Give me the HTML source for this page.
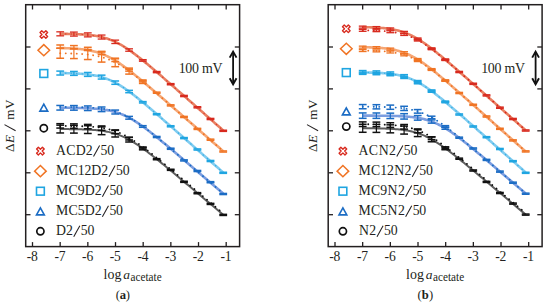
<!DOCTYPE html><html><head><meta charset="utf-8"><style>html,body{margin:0;padding:0;background:#fff;width:550px;height:305px;overflow:hidden}svg{display:block}</style></head><body>
<svg width="550" height="305" viewBox="0 0 550 305">
<rect width="550" height="305" fill="#fff"/>
<g transform="translate(0,0)">
<polyline points="60.20,129.06 61.37,129.07 62.55,129.07 63.72,129.08 64.89,129.09 66.06,129.10 67.24,129.11 68.41,129.12 69.58,129.13 70.75,129.15 71.93,129.16 73.10,129.18 74.27,129.20 75.44,129.22 76.62,129.24 77.79,129.26 78.96,129.29 80.14,129.32 81.31,129.35 82.48,129.38 83.65,129.42 84.83,129.46 86.00,129.51 87.17,129.56 88.34,129.62 89.52,129.68 90.69,129.75 91.86,129.82 93.03,129.90 94.21,129.99 95.38,130.08 96.55,130.19 97.73,130.30 98.90,130.43 100.07,130.56 101.24,130.71 102.42,130.87 103.59,131.04 104.76,131.23 105.93,131.43 107.11,131.65 108.28,131.89 109.45,132.14 110.62,132.42 111.80,132.71 112.97,133.02 114.14,133.36 115.32,133.71 116.49,134.09 117.66,134.50 118.83,134.92 120.01,135.37 121.18,135.85 122.35,136.34 123.52,136.87 124.70,137.41 125.87,137.98 127.04,138.58 128.21,139.19 129.39,139.83 130.56,140.49 131.73,141.17 132.91,141.87 134.08,142.59 135.25,143.33 136.42,144.09 137.60,144.87 138.77,145.66 139.94,146.46 141.11,147.28 142.29,148.12 143.46,148.96 144.63,149.82 145.80,150.69 146.98,151.57 148.15,152.45 149.32,153.35 150.49,154.25 151.67,155.17 152.84,156.08 154.01,157.01 155.19,157.94 156.36,158.87 157.53,159.81 158.70,160.76 159.88,161.71 161.05,162.66 162.22,163.62 163.39,164.57 164.57,165.54 165.74,166.50 166.91,167.47 168.08,168.44 169.26,169.41 170.43,170.38 171.60,171.35 172.78,172.33 173.95,173.30 175.12,174.28 176.29,175.26 177.47,176.24 178.64,177.22 179.81,178.21 180.98,179.19 182.16,180.17 183.33,181.15 184.50,182.14 185.67,183.12 186.85,184.11 188.02,185.10 189.19,186.08 190.37,187.07 191.54,188.06 192.71,189.04 193.88,190.03 195.06,191.02 196.23,192.01 197.40,192.99 198.57,193.98 199.75,194.97 200.92,195.96 202.09,196.95 203.26,197.94 204.44,198.93 205.61,199.91 206.78,200.90 207.96,201.89 209.13,202.88 210.30,203.87 211.47,204.86 212.65,205.85 213.82,206.84 214.99,207.83 216.16,208.82 217.34,209.81 218.51,210.80 219.68,211.79 220.85,212.78 222.03,213.77 223.20,214.76" fill="none" stroke="#5e5e5e" stroke-width="2.0"/>
<polyline points="60.20,125.87 61.37,125.88 62.55,125.89 63.72,125.90 64.89,125.91 66.06,125.92 67.24,125.93 68.41,125.94 69.58,125.96 70.75,125.97 71.93,125.99 73.10,126.01 74.27,126.03 75.44,126.06 76.62,126.08 77.79,126.11 78.96,126.14 80.14,126.18 81.31,126.21 82.48,126.26 83.65,126.30 84.83,126.35 86.00,126.41 87.17,126.47 88.34,126.53 89.52,126.60 90.69,126.68 91.86,126.77 93.03,126.86 94.21,126.97 95.38,127.08 96.55,127.20 97.73,127.34 98.90,127.48 100.07,127.64 101.24,127.81 102.42,127.99 103.59,128.19 104.76,128.41 105.93,128.64 107.11,128.90 108.28,129.17 109.45,129.45 110.62,129.76 111.80,130.10 112.97,130.45 114.14,130.82 115.32,131.22 116.49,131.64 117.66,132.09 118.83,132.56 120.01,133.05 121.18,133.57 122.35,134.11 123.52,134.68 124.70,135.27 125.87,135.88 127.04,136.51 128.21,137.17 129.39,137.85 130.56,138.54 131.73,139.26 132.91,140.00 134.08,140.75 135.25,141.53 136.42,142.31 137.60,143.12 138.77,143.93 139.94,144.76 141.11,145.61 142.29,146.46 143.46,147.33 144.63,148.21 145.80,149.09 146.98,149.99 148.15,150.89 149.32,151.80 150.49,152.72 151.67,153.64 152.84,154.57 154.01,155.50 155.19,156.44 156.36,157.39 157.53,158.33 158.70,159.29 159.88,160.24 161.05,161.20 162.22,162.16 163.39,163.12 164.57,164.09 165.74,165.06 166.91,166.03 168.08,167.00 169.26,167.98 170.43,168.95 171.60,169.93 172.78,170.90 173.95,171.88 175.12,172.86 176.29,173.84 177.47,174.83 178.64,175.81 179.81,176.79 180.98,177.78 182.16,178.76 183.33,179.75 184.50,180.73 185.67,181.72 186.85,182.70 188.02,183.69 189.19,184.68 190.37,185.66 191.54,186.65 192.71,187.64 193.88,188.63 195.06,189.61 196.23,190.60 197.40,191.59 198.57,192.58 199.75,193.57 200.92,194.56 202.09,195.55 203.26,196.54 204.44,197.52 205.61,198.51 206.78,199.50 207.96,200.49 209.13,201.48 210.30,202.47 211.47,203.46 212.65,204.45 213.82,205.44 214.99,206.43 216.16,207.42 217.34,208.41 218.51,209.40 219.68,210.39 220.85,211.38 222.03,212.37 223.20,213.36" fill="none" stroke="#111111" stroke-width="1.8" stroke-dasharray="0.1 5.4" stroke-linecap="round"/>
<rect x="56.30" y="124.41" width="7.8" height="1.5" fill="#111111"/>
<rect x="56.30" y="132.21" width="7.8" height="1.5" fill="#111111"/>
<rect x="59.60" y="125.16" width="1.2" height="7.80" fill="#111111"/>
<rect x="56.30" y="122.93" width="7.8" height="1.5" fill="#111111"/>
<rect x="56.30" y="127.33" width="7.8" height="1.5" fill="#111111"/>
<rect x="59.60" y="123.68" width="1.2" height="4.40" fill="#111111"/>
<rect x="70.00" y="124.54" width="7.8" height="1.5" fill="#111111"/>
<rect x="70.00" y="132.34" width="7.8" height="1.5" fill="#111111"/>
<rect x="73.30" y="125.29" width="1.2" height="7.80" fill="#111111"/>
<rect x="70.00" y="123.11" width="7.8" height="1.5" fill="#111111"/>
<rect x="70.00" y="127.51" width="7.8" height="1.5" fill="#111111"/>
<rect x="73.30" y="123.86" width="1.2" height="4.40" fill="#111111"/>
<rect x="83.90" y="124.94" width="7.8" height="1.5" fill="#111111"/>
<rect x="83.90" y="132.74" width="7.8" height="1.5" fill="#111111"/>
<rect x="87.20" y="125.69" width="1.2" height="7.80" fill="#111111"/>
<rect x="83.90" y="123.65" width="7.8" height="1.5" fill="#111111"/>
<rect x="83.90" y="128.05" width="7.8" height="1.5" fill="#111111"/>
<rect x="87.20" y="124.40" width="1.2" height="4.40" fill="#111111"/>
<rect x="97.70" y="126.11" width="7.8" height="1.5" fill="#111111"/>
<rect x="97.70" y="133.91" width="7.8" height="1.5" fill="#111111"/>
<rect x="101.00" y="126.86" width="1.2" height="7.80" fill="#111111"/>
<rect x="97.70" y="125.19" width="7.8" height="1.5" fill="#111111"/>
<rect x="97.70" y="129.59" width="7.8" height="1.5" fill="#111111"/>
<rect x="101.00" y="125.94" width="1.2" height="4.40" fill="#111111"/>
<rect x="111.30" y="129.61" width="7.8" height="1.5" fill="#111111"/>
<rect x="111.30" y="136.24" width="7.8" height="1.5" fill="#111111"/>
<rect x="114.60" y="130.36" width="1.2" height="6.63" fill="#111111"/>
<rect x="111.30" y="129.16" width="7.8" height="1.5" fill="#111111"/>
<rect x="111.30" y="132.90" width="7.8" height="1.5" fill="#111111"/>
<rect x="114.60" y="129.91" width="1.2" height="3.74" fill="#111111"/>
<rect x="125.20" y="136.58" width="7.8" height="1.5" fill="#111111"/>
<rect x="125.20" y="141.26" width="7.8" height="1.5" fill="#111111"/>
<rect x="128.50" y="137.33" width="1.2" height="4.68" fill="#111111"/>
<rect x="125.20" y="136.59" width="7.8" height="1.5" fill="#111111"/>
<rect x="125.20" y="139.23" width="7.8" height="1.5" fill="#111111"/>
<rect x="128.50" y="137.34" width="1.2" height="2.64" fill="#111111"/>
<rect x="138.90" y="146.37" width="7.8" height="1.5" fill="#111111"/>
<rect x="138.90" y="149.10" width="7.8" height="1.5" fill="#111111"/>
<rect x="142.20" y="147.12" width="1.2" height="2.73" fill="#111111"/>
<rect x="138.90" y="146.56" width="7.8" height="1.5" fill="#111111"/>
<rect x="138.90" y="148.10" width="7.8" height="1.5" fill="#111111"/>
<rect x="152.80" y="157.90" width="7.8" height="1.5" fill="#111111"/>
<rect x="152.80" y="159.00" width="7.8" height="1.5" fill="#111111"/>
<rect x="166.80" y="168.50" width="7.8" height="1.5" fill="#111111"/>
<rect x="166.80" y="169.60" width="7.8" height="1.5" fill="#111111"/>
<rect x="180.10" y="180.50" width="7.8" height="1.5" fill="#111111"/>
<rect x="180.10" y="181.60" width="7.8" height="1.5" fill="#111111"/>
<rect x="193.50" y="191.90" width="7.8" height="1.5" fill="#111111"/>
<rect x="193.50" y="193.00" width="7.8" height="1.5" fill="#111111"/>
<rect x="206.60" y="202.60" width="7.8" height="1.5" fill="#111111"/>
<rect x="206.60" y="203.70" width="7.8" height="1.5" fill="#111111"/>
<rect x="219.30" y="213.60" width="7.8" height="1.5" fill="#111111"/>
<rect x="219.30" y="214.70" width="7.8" height="1.5" fill="#111111"/>
<polyline points="60.20,107.76 61.37,107.76 62.55,107.77 63.72,107.77 64.89,107.78 66.06,107.79 67.24,107.80 68.41,107.81 69.58,107.82 70.75,107.83 71.93,107.85 73.10,107.86 74.27,107.88 75.44,107.90 76.62,107.91 77.79,107.94 78.96,107.96 80.14,107.99 81.31,108.02 82.48,108.05 83.65,108.08 84.83,108.12 86.00,108.16 87.17,108.21 88.34,108.26 89.52,108.32 90.69,108.38 91.86,108.44 93.03,108.52 94.21,108.60 95.38,108.69 96.55,108.78 97.73,108.89 98.90,109.00 100.07,109.13 101.24,109.26 102.42,109.41 103.59,109.57 104.76,109.74 105.93,109.93 107.11,110.13 108.28,110.35 109.45,110.59 110.62,110.85 111.80,111.12 112.97,111.41 114.14,111.73 115.32,112.06 116.49,112.42 117.66,112.80 118.83,113.21 120.01,113.64 121.18,114.09 122.35,114.57 123.52,115.07 124.70,115.59 125.87,116.14 127.04,116.72 128.21,117.31 129.39,117.93 130.56,118.58 131.73,119.24 132.91,119.93 134.08,120.64 135.25,121.37 136.42,122.12 137.60,122.88 138.77,123.67 139.94,124.47 141.11,125.28 142.29,126.11 143.46,126.95 144.63,127.81 145.80,128.68 146.98,129.55 148.15,130.44 149.32,131.34 150.49,132.25 151.67,133.17 152.84,134.09 154.01,135.02 155.19,135.96 156.36,136.90 157.53,137.85 158.70,138.80 159.88,139.76 161.05,140.72 162.22,141.68 163.39,142.65 164.57,143.62 165.74,144.60 166.91,145.58 168.08,146.56 169.26,147.54 170.43,148.52 171.60,149.51 172.78,150.50 173.95,151.48 175.12,152.48 176.29,153.47 177.47,154.46 178.64,155.45 179.81,156.45 180.98,157.44 182.16,158.44 183.33,159.44 184.50,160.44 185.67,161.43 186.85,162.43 188.02,163.43 189.19,164.43 190.37,165.43 191.54,166.43 192.71,167.43 193.88,168.43 195.06,169.44 196.23,170.44 197.40,171.44 198.57,172.44 199.75,173.44 200.92,174.45 202.09,175.45 203.26,176.45 204.44,177.45 205.61,178.46 206.78,179.46 207.96,180.46 209.13,181.47 210.30,182.47 211.47,183.47 212.65,184.48 213.82,185.48 214.99,186.48 216.16,187.49 217.34,188.49 218.51,189.50 219.68,190.50 220.85,191.50 222.03,192.51 223.20,193.51" fill="none" stroke="#7b9de0" stroke-width="2.6"/>
<polyline points="60.20,106.96 61.37,106.97 62.55,106.97 63.72,106.98 64.89,106.99 66.06,107.00 67.24,107.01 68.41,107.02 69.58,107.03 70.75,107.04 71.93,107.06 73.10,107.07 74.27,107.09 75.44,107.11 76.62,107.13 77.79,107.16 78.96,107.18 80.14,107.21 81.31,107.24 82.48,107.28 83.65,107.31 84.83,107.35 86.00,107.40 87.17,107.45 88.34,107.50 89.52,107.56 90.69,107.63 91.86,107.70 93.03,107.78 94.21,107.87 95.38,107.96 96.55,108.06 97.73,108.18 98.90,108.30 100.07,108.43 101.24,108.58 102.42,108.73 103.59,108.91 104.76,109.09 105.93,109.29 107.11,109.51 108.28,109.74 109.45,109.99 110.62,110.26 111.80,110.55 112.97,110.86 114.14,111.19 115.32,111.55 116.49,111.92 117.66,112.32 118.83,112.75 120.01,113.19 121.18,113.67 122.35,114.16 123.52,114.68 124.70,115.23 125.87,115.80 127.04,116.39 128.21,117.01 129.39,117.65 130.56,118.31 131.73,118.99 132.91,119.70 134.08,120.42 135.25,121.16 136.42,121.93 137.60,122.71 138.77,123.50 139.94,124.31 141.11,125.14 142.29,125.98 143.46,126.83 144.63,127.70 145.80,128.57 146.98,129.46 148.15,130.36 149.32,131.26 150.49,132.18 151.67,133.10 152.84,134.03 154.01,134.96 155.19,135.91 156.36,136.85 157.53,137.80 158.70,138.76 159.88,139.72 161.05,140.69 162.22,141.65 163.39,142.63 164.57,143.60 165.74,144.58 166.91,145.56 168.08,146.54 169.26,147.52 170.43,148.51 171.60,149.49 172.78,150.48 173.95,151.47 175.12,152.47 176.29,153.46 177.47,154.45 178.64,155.45 179.81,156.44 180.98,157.44 182.16,158.44 183.33,159.43 184.50,160.43 185.67,161.43 186.85,162.43 188.02,163.43 189.19,164.43 190.37,165.43 191.54,166.43 192.71,167.43 193.88,168.43 195.06,169.43 196.23,170.44 197.40,171.44 198.57,172.44 199.75,173.44 200.92,174.45 202.09,175.45 203.26,176.45 204.44,177.45 205.61,178.46 206.78,179.46 207.96,180.46 209.13,181.47 210.30,182.47 211.47,183.47 212.65,184.48 213.82,185.48 214.99,186.48 216.16,187.49 217.34,188.49 218.51,189.50 219.68,190.50 220.85,191.50 222.03,192.51 223.20,193.51" fill="none" stroke="#1b6cc4" stroke-width="1.8" stroke-dasharray="0.1 5.4" stroke-linecap="round"/>
<rect x="56.30" y="104.71" width="7.8" height="1.5" fill="#1b6cc4"/>
<rect x="56.30" y="109.31" width="7.8" height="1.5" fill="#1b6cc4"/>
<rect x="59.60" y="105.46" width="1.2" height="4.60" fill="#1b6cc4"/>
<rect x="70.00" y="104.82" width="7.8" height="1.5" fill="#1b6cc4"/>
<rect x="70.00" y="109.42" width="7.8" height="1.5" fill="#1b6cc4"/>
<rect x="73.30" y="105.57" width="1.2" height="4.60" fill="#1b6cc4"/>
<rect x="83.90" y="105.19" width="7.8" height="1.5" fill="#1b6cc4"/>
<rect x="83.90" y="109.79" width="7.8" height="1.5" fill="#1b6cc4"/>
<rect x="87.20" y="105.94" width="1.2" height="4.60" fill="#1b6cc4"/>
<rect x="97.70" y="106.25" width="7.8" height="1.5" fill="#1b6cc4"/>
<rect x="97.70" y="110.85" width="7.8" height="1.5" fill="#1b6cc4"/>
<rect x="101.00" y="107.00" width="1.2" height="4.60" fill="#1b6cc4"/>
<rect x="111.30" y="109.33" width="7.8" height="1.5" fill="#1b6cc4"/>
<rect x="111.30" y="113.24" width="7.8" height="1.5" fill="#1b6cc4"/>
<rect x="114.60" y="110.08" width="1.2" height="3.91" fill="#1b6cc4"/>
<rect x="125.20" y="115.65" width="7.8" height="1.5" fill="#1b6cc4"/>
<rect x="125.20" y="118.41" width="7.8" height="1.5" fill="#1b6cc4"/>
<rect x="128.50" y="116.40" width="1.2" height="2.76" fill="#1b6cc4"/>
<rect x="138.90" y="124.92" width="7.8" height="1.5" fill="#1b6cc4"/>
<rect x="138.90" y="126.53" width="7.8" height="1.5" fill="#1b6cc4"/>
<rect x="152.80" y="135.70" width="7.8" height="1.5" fill="#1b6cc4"/>
<rect x="152.80" y="136.80" width="7.8" height="1.5" fill="#1b6cc4"/>
<rect x="166.80" y="147.45" width="7.8" height="1.5" fill="#1b6cc4"/>
<rect x="166.80" y="148.55" width="7.8" height="1.5" fill="#1b6cc4"/>
<rect x="180.10" y="159.10" width="7.8" height="1.5" fill="#1b6cc4"/>
<rect x="180.10" y="160.20" width="7.8" height="1.5" fill="#1b6cc4"/>
<rect x="193.50" y="169.70" width="7.8" height="1.5" fill="#1b6cc4"/>
<rect x="193.50" y="170.80" width="7.8" height="1.5" fill="#1b6cc4"/>
<rect x="206.60" y="180.90" width="7.8" height="1.5" fill="#1b6cc4"/>
<rect x="206.60" y="182.00" width="7.8" height="1.5" fill="#1b6cc4"/>
<rect x="219.30" y="192.70" width="7.8" height="1.5" fill="#1b6cc4"/>
<rect x="219.30" y="193.80" width="7.8" height="1.5" fill="#1b6cc4"/>
<polyline points="60.20,73.06 61.37,73.08 62.55,73.10 63.72,73.12 64.89,73.14 66.06,73.16 67.24,73.19 68.41,73.22 69.58,73.25 70.75,73.29 71.93,73.33 73.10,73.37 74.27,73.42 75.44,73.47 76.62,73.53 77.79,73.59 78.96,73.66 80.14,73.73 81.31,73.81 82.48,73.90 83.65,74.00 84.83,74.11 86.00,74.22 87.17,74.35 88.34,74.49 89.52,74.64 90.69,74.80 91.86,74.98 93.03,75.17 94.21,75.37 95.38,75.60 96.55,75.84 97.73,76.10 98.90,76.38 100.07,76.68 101.24,77.00 102.42,77.34 103.59,77.71 104.76,78.10 105.93,78.51 107.11,78.95 108.28,79.41 109.45,79.90 110.62,80.41 111.80,80.95 112.97,81.51 114.14,82.10 115.32,82.71 116.49,83.34 117.66,84.00 118.83,84.69 120.01,85.39 121.18,86.12 122.35,86.87 123.52,87.63 124.70,88.42 125.87,89.22 127.04,90.04 128.21,90.88 129.39,91.73 130.56,92.60 131.73,93.48 132.91,94.37 134.08,95.27 135.25,96.19 136.42,97.11 137.60,98.04 138.77,98.99 139.94,99.94 141.11,100.89 142.29,101.86 143.46,102.83 144.63,103.80 145.80,104.78 146.98,105.77 148.15,106.76 149.32,107.75 150.49,108.75 151.67,109.75 152.84,110.75 154.01,111.76 155.19,112.77 156.36,113.78 157.53,114.79 158.70,115.81 159.88,116.82 161.05,117.84 162.22,118.86 163.39,119.88 164.57,120.90 165.74,121.93 166.91,122.95 168.08,123.98 169.26,125.00 170.43,126.03 171.60,127.06 172.78,128.09 173.95,129.11 175.12,130.14 176.29,131.17 177.47,132.20 178.64,133.23 179.81,134.26 180.98,135.29 182.16,136.33 183.33,137.36 184.50,138.39 185.67,139.42 186.85,140.45 188.02,141.49 189.19,142.52 190.37,143.55 191.54,144.58 192.71,145.62 193.88,146.65 195.06,147.68 196.23,148.72 197.40,149.75 198.57,150.78 199.75,151.82 200.92,152.85 202.09,153.88 203.26,154.92 204.44,155.95 205.61,156.98 206.78,158.02 207.96,159.05 209.13,160.08 210.30,161.12 211.47,162.15 212.65,163.19 213.82,164.22 214.99,165.25 216.16,166.29 217.34,167.32 218.51,168.35 219.68,169.39 220.85,170.42 222.03,171.46 223.20,172.49" fill="none" stroke="#80ccf0" stroke-width="2.6"/>
<polyline points="60.20,73.06 61.37,73.08 62.55,73.10 63.72,73.12 64.89,73.14 66.06,73.16 67.24,73.19 68.41,73.22 69.58,73.25 70.75,73.29 71.93,73.33 73.10,73.37 74.27,73.42 75.44,73.47 76.62,73.53 77.79,73.59 78.96,73.66 80.14,73.73 81.31,73.81 82.48,73.90 83.65,74.00 84.83,74.11 86.00,74.22 87.17,74.35 88.34,74.49 89.52,74.64 90.69,74.80 91.86,74.98 93.03,75.17 94.21,75.37 95.38,75.60 96.55,75.84 97.73,76.10 98.90,76.38 100.07,76.68 101.24,77.00 102.42,77.34 103.59,77.71 104.76,78.10 105.93,78.51 107.11,78.95 108.28,79.41 109.45,79.90 110.62,80.41 111.80,80.95 112.97,81.51 114.14,82.10 115.32,82.71 116.49,83.34 117.66,84.00 118.83,84.69 120.01,85.39 121.18,86.12 122.35,86.87 123.52,87.63 124.70,88.42 125.87,89.22 127.04,90.04 128.21,90.88 129.39,91.73 130.56,92.60 131.73,93.48 132.91,94.37 134.08,95.27 135.25,96.19 136.42,97.11 137.60,98.04 138.77,98.99 139.94,99.94 141.11,100.89 142.29,101.86 143.46,102.83 144.63,103.80 145.80,104.78 146.98,105.77 148.15,106.76 149.32,107.75 150.49,108.75 151.67,109.75 152.84,110.75 154.01,111.76 155.19,112.77 156.36,113.78 157.53,114.79 158.70,115.81 159.88,116.82 161.05,117.84 162.22,118.86 163.39,119.88 164.57,120.90 165.74,121.93 166.91,122.95 168.08,123.98 169.26,125.00 170.43,126.03 171.60,127.06 172.78,128.09 173.95,129.11 175.12,130.14 176.29,131.17 177.47,132.20 178.64,133.23 179.81,134.26 180.98,135.29 182.16,136.33 183.33,137.36 184.50,138.39 185.67,139.42 186.85,140.45 188.02,141.49 189.19,142.52 190.37,143.55 191.54,144.58 192.71,145.62 193.88,146.65 195.06,147.68 196.23,148.72 197.40,149.75 198.57,150.78 199.75,151.82 200.92,152.85 202.09,153.88 203.26,154.92 204.44,155.95 205.61,156.98 206.78,158.02 207.96,159.05 209.13,160.08 210.30,161.12 211.47,162.15 212.65,163.19 213.82,164.22 214.99,165.25 216.16,166.29 217.34,167.32 218.51,168.35 219.68,169.39 220.85,170.42 222.03,171.46 223.20,172.49" fill="none" stroke="#1fa5e1" stroke-width="1.4" stroke-dasharray="0.1 5.4" stroke-linecap="round" opacity="0.75"/>
<rect x="56.30" y="70.36" width="7.8" height="1.5" fill="#1fa5e1"/>
<rect x="56.30" y="74.26" width="7.8" height="1.5" fill="#1fa5e1"/>
<rect x="59.60" y="71.11" width="1.2" height="3.90" fill="#1fa5e1"/>
<rect x="70.00" y="70.70" width="7.8" height="1.5" fill="#1fa5e1"/>
<rect x="70.00" y="74.60" width="7.8" height="1.5" fill="#1fa5e1"/>
<rect x="73.30" y="71.45" width="1.2" height="3.90" fill="#1fa5e1"/>
<rect x="83.90" y="71.72" width="7.8" height="1.5" fill="#1fa5e1"/>
<rect x="83.90" y="75.62" width="7.8" height="1.5" fill="#1fa5e1"/>
<rect x="87.20" y="72.47" width="1.2" height="3.90" fill="#1fa5e1"/>
<rect x="97.70" y="74.40" width="7.8" height="1.5" fill="#1fa5e1"/>
<rect x="97.70" y="78.30" width="7.8" height="1.5" fill="#1fa5e1"/>
<rect x="101.00" y="75.15" width="1.2" height="3.90" fill="#1fa5e1"/>
<rect x="111.30" y="80.24" width="7.8" height="1.5" fill="#1fa5e1"/>
<rect x="111.30" y="83.55" width="7.8" height="1.5" fill="#1fa5e1"/>
<rect x="114.60" y="80.99" width="1.2" height="3.31" fill="#1fa5e1"/>
<rect x="125.20" y="89.60" width="7.8" height="1.5" fill="#1fa5e1"/>
<rect x="125.20" y="91.94" width="7.8" height="1.5" fill="#1fa5e1"/>
<rect x="128.50" y="90.35" width="1.2" height="2.34" fill="#1fa5e1"/>
<rect x="138.90" y="100.85" width="7.8" height="1.5" fill="#1fa5e1"/>
<rect x="138.90" y="102.21" width="7.8" height="1.5" fill="#1fa5e1"/>
<rect x="152.80" y="112.90" width="7.8" height="1.5" fill="#1fa5e1"/>
<rect x="152.80" y="114.00" width="7.8" height="1.5" fill="#1fa5e1"/>
<rect x="166.80" y="124.97" width="7.8" height="1.5" fill="#1fa5e1"/>
<rect x="166.80" y="126.07" width="7.8" height="1.5" fill="#1fa5e1"/>
<rect x="180.10" y="136.80" width="7.8" height="1.5" fill="#1fa5e1"/>
<rect x="180.10" y="137.90" width="7.8" height="1.5" fill="#1fa5e1"/>
<rect x="193.50" y="148.20" width="7.8" height="1.5" fill="#1fa5e1"/>
<rect x="193.50" y="149.30" width="7.8" height="1.5" fill="#1fa5e1"/>
<rect x="206.60" y="159.70" width="7.8" height="1.5" fill="#1fa5e1"/>
<rect x="206.60" y="160.80" width="7.8" height="1.5" fill="#1fa5e1"/>
<rect x="219.30" y="171.50" width="7.8" height="1.5" fill="#1fa5e1"/>
<rect x="219.30" y="172.60" width="7.8" height="1.5" fill="#1fa5e1"/>
<polyline points="60.20,48.05 61.37,48.08 62.55,48.11 63.72,48.14 64.89,48.17 66.06,48.21 67.24,48.25 68.41,48.30 69.58,48.35 70.75,48.40 71.93,48.46 73.10,48.53 74.27,48.60 75.44,48.68 76.62,48.76 77.79,48.86 78.96,48.96 80.14,49.07 81.31,49.19 82.48,49.32 83.65,49.47 84.83,49.63 86.00,49.80 87.17,49.98 88.34,50.18 89.52,50.40 90.69,50.63 91.86,50.88 93.03,51.15 94.21,51.44 95.38,51.75 96.55,52.08 97.73,52.44 98.90,52.82 100.07,53.22 101.24,53.64 102.42,54.09 103.59,54.57 104.76,55.06 105.93,55.59 107.11,56.14 108.28,56.71 109.45,57.31 110.62,57.93 111.80,58.58 112.97,59.24 114.14,59.94 115.32,60.65 116.49,61.38 117.66,62.13 118.83,62.91 120.01,63.70 121.18,64.50 122.35,65.33 123.52,66.16 124.70,67.02 125.87,67.88 127.04,68.76 128.21,69.65 129.39,70.55 130.56,71.47 131.73,72.39 132.91,73.32 134.08,74.25 135.25,75.20 136.42,76.15 137.60,77.11 138.77,78.07 139.94,79.04 141.11,80.01 142.29,80.99 143.46,81.97 144.63,82.96 145.80,83.95 146.98,84.94 148.15,85.94 149.32,86.94 150.49,87.94 151.67,88.94 152.84,89.94 154.01,90.95 155.19,91.96 156.36,92.96 157.53,93.97 158.70,94.99 159.88,96.00 161.05,97.01 162.22,98.03 163.39,99.04 164.57,100.06 165.74,101.08 166.91,102.09 168.08,103.11 169.26,104.13 170.43,105.15 171.60,106.17 172.78,107.19 173.95,108.21 175.12,109.23 176.29,110.25 177.47,111.27 178.64,112.29 179.81,113.31 180.98,114.33 182.16,115.36 183.33,116.38 184.50,117.40 185.67,118.42 186.85,119.44 188.02,120.47 189.19,121.49 190.37,122.51 191.54,123.53 192.71,124.56 193.88,125.58 195.06,126.60 196.23,127.63 197.40,128.65 198.57,129.67 199.75,130.69 200.92,131.72 202.09,132.74 203.26,133.76 204.44,134.79 205.61,135.81 206.78,136.83 207.96,137.86 209.13,138.88 210.30,139.90 211.47,140.93 212.65,141.95 213.82,142.97 214.99,144.00 216.16,145.02 217.34,146.04 218.51,147.07 219.68,148.09 220.85,149.11 222.03,150.14 223.20,151.16" fill="none" stroke="#f6a775" stroke-width="2.6"/>
<polyline points="60.20,53.25 61.37,53.27 62.55,53.29 63.72,53.31 64.89,53.33 66.06,53.35 67.24,53.37 68.41,53.40 69.58,53.43 70.75,53.47 71.93,53.50 73.10,53.54 74.27,53.59 75.44,53.64 76.62,53.69 77.79,53.75 78.96,53.81 80.14,53.88 81.31,53.96 82.48,54.05 83.65,54.14 84.83,54.24 86.00,54.35 87.17,54.47 88.34,54.60 89.52,54.74 90.69,54.90 91.86,55.06 93.03,55.25 94.21,55.44 95.38,55.66 96.55,55.89 97.73,56.13 98.90,56.40 100.07,56.69 101.24,56.99 102.42,57.32 103.59,57.67 104.76,58.05 105.93,58.44 107.11,58.86 108.28,59.31 109.45,59.78 110.62,60.27 111.80,60.79 112.97,61.34 114.14,61.91 115.32,62.50 116.49,63.12 117.66,63.76 118.83,64.42 120.01,65.11 121.18,65.82 122.35,66.55 123.52,67.30 124.70,68.07 125.87,68.85 127.04,69.66 128.21,70.48 129.39,71.31 130.56,72.16 131.73,73.03 132.91,73.90 134.08,74.79 135.25,75.69 136.42,76.60 137.60,77.52 138.77,78.45 139.94,79.39 141.11,80.33 142.29,81.28 143.46,82.24 144.63,83.20 145.80,84.17 146.98,85.14 148.15,86.12 149.32,87.10 150.49,88.08 151.67,89.07 152.84,90.07 154.01,91.06 155.19,92.06 156.36,93.06 157.53,94.06 158.70,95.06 159.88,96.07 161.05,97.08 162.22,98.08 163.39,99.09 164.57,100.11 165.74,101.12 166.91,102.13 168.08,103.15 169.26,104.16 170.43,105.18 171.60,106.19 172.78,107.21 173.95,108.23 175.12,109.25 176.29,110.27 177.47,111.29 178.64,112.31 179.81,113.33 180.98,114.35 182.16,115.37 183.33,116.39 184.50,117.41 185.67,118.43 186.85,119.45 188.02,120.47 189.19,121.49 190.37,122.52 191.54,123.54 192.71,124.56 193.88,125.58 195.06,126.61 196.23,127.63 197.40,128.65 198.57,129.67 199.75,130.70 200.92,131.72 202.09,132.74 203.26,133.77 204.44,134.79 205.61,135.81 206.78,136.84 207.96,137.86 209.13,138.88 210.30,139.90 211.47,140.93 212.65,141.95 213.82,142.97 214.99,144.00 216.16,145.02 217.34,146.04 218.51,147.07 219.68,148.09 220.85,149.11 222.03,150.14 223.20,151.16" fill="none" stroke="#f07424" stroke-width="1.8" stroke-dasharray="0.1 5.4" stroke-linecap="round"/>
<rect x="56.30" y="44.24" width="7.8" height="1.5" fill="#f07424"/>
<rect x="56.30" y="47.44" width="7.8" height="1.5" fill="#f07424"/>
<rect x="59.60" y="44.99" width="1.2" height="3.20" fill="#f07424"/>
<rect x="56.30" y="47.50" width="7.8" height="1.5" fill="#f07424"/>
<rect x="56.30" y="57.50" width="7.8" height="1.5" fill="#f07424"/>
<rect x="59.60" y="48.25" width="1.2" height="10.00" fill="#f07424"/>
<rect x="70.00" y="44.84" width="7.8" height="1.5" fill="#f07424"/>
<rect x="70.00" y="48.04" width="7.8" height="1.5" fill="#f07424"/>
<rect x="73.30" y="45.59" width="1.2" height="3.20" fill="#f07424"/>
<rect x="70.00" y="47.82" width="7.8" height="1.5" fill="#f07424"/>
<rect x="70.00" y="57.82" width="7.8" height="1.5" fill="#f07424"/>
<rect x="73.30" y="48.57" width="1.2" height="10.00" fill="#f07424"/>
<rect x="83.90" y="46.55" width="7.8" height="1.5" fill="#f07424"/>
<rect x="83.90" y="49.75" width="7.8" height="1.5" fill="#f07424"/>
<rect x="87.20" y="47.30" width="1.2" height="3.20" fill="#f07424"/>
<rect x="83.90" y="48.79" width="7.8" height="1.5" fill="#f07424"/>
<rect x="83.90" y="58.79" width="7.8" height="1.5" fill="#f07424"/>
<rect x="87.20" y="49.54" width="1.2" height="10.00" fill="#f07424"/>
<rect x="97.70" y="50.60" width="7.8" height="1.5" fill="#f07424"/>
<rect x="97.70" y="53.80" width="7.8" height="1.5" fill="#f07424"/>
<rect x="101.00" y="51.35" width="1.2" height="3.20" fill="#f07424"/>
<rect x="97.70" y="51.34" width="7.8" height="1.5" fill="#f07424"/>
<rect x="97.70" y="61.34" width="7.8" height="1.5" fill="#f07424"/>
<rect x="101.00" y="52.09" width="1.2" height="10.00" fill="#f07424"/>
<rect x="111.30" y="58.05" width="7.8" height="1.5" fill="#f07424"/>
<rect x="111.30" y="60.77" width="7.8" height="1.5" fill="#f07424"/>
<rect x="114.60" y="58.80" width="1.2" height="2.72" fill="#f07424"/>
<rect x="111.30" y="57.44" width="7.8" height="1.5" fill="#f07424"/>
<rect x="111.30" y="65.94" width="7.8" height="1.5" fill="#f07424"/>
<rect x="114.60" y="58.19" width="1.2" height="8.50" fill="#f07424"/>
<rect x="125.20" y="68.46" width="7.8" height="1.5" fill="#f07424"/>
<rect x="125.20" y="70.38" width="7.8" height="1.5" fill="#f07424"/>
<rect x="128.50" y="69.21" width="1.2" height="1.92" fill="#f07424"/>
<rect x="125.20" y="67.36" width="7.8" height="1.5" fill="#f07424"/>
<rect x="125.20" y="73.36" width="7.8" height="1.5" fill="#f07424"/>
<rect x="128.50" y="68.11" width="1.2" height="6.00" fill="#f07424"/>
<rect x="138.90" y="80.06" width="7.8" height="1.5" fill="#f07424"/>
<rect x="138.90" y="81.18" width="7.8" height="1.5" fill="#f07424"/>
<rect x="138.90" y="79.20" width="7.8" height="1.5" fill="#f07424"/>
<rect x="138.90" y="82.70" width="7.8" height="1.5" fill="#f07424"/>
<rect x="142.20" y="79.95" width="1.2" height="3.50" fill="#f07424"/>
<rect x="152.80" y="91.40" width="7.8" height="1.5" fill="#f07424"/>
<rect x="152.80" y="92.50" width="7.8" height="1.5" fill="#f07424"/>
<rect x="166.80" y="104.08" width="7.8" height="1.5" fill="#f07424"/>
<rect x="166.80" y="105.18" width="7.8" height="1.5" fill="#f07424"/>
<rect x="180.10" y="115.66" width="7.8" height="1.5" fill="#f07424"/>
<rect x="180.10" y="116.76" width="7.8" height="1.5" fill="#f07424"/>
<rect x="193.50" y="127.60" width="7.8" height="1.5" fill="#f07424"/>
<rect x="193.50" y="128.70" width="7.8" height="1.5" fill="#f07424"/>
<rect x="206.60" y="138.40" width="7.8" height="1.5" fill="#f07424"/>
<rect x="206.60" y="139.50" width="7.8" height="1.5" fill="#f07424"/>
<rect x="219.30" y="150.20" width="7.8" height="1.5" fill="#f07424"/>
<rect x="219.30" y="151.30" width="7.8" height="1.5" fill="#f07424"/>
<polyline points="60.20,33.83 61.37,33.84 62.55,33.85 63.72,33.87 64.89,33.88 66.06,33.90 67.24,33.92 68.41,33.95 69.58,33.97 70.75,34.00 71.93,34.03 73.10,34.06 74.27,34.10 75.44,34.14 76.62,34.18 77.79,34.23 78.96,34.28 80.14,34.34 81.31,34.41 82.48,34.47 83.65,34.55 84.83,34.63 86.00,34.73 87.17,34.83 88.34,34.93 89.52,35.05 90.69,35.18 91.86,35.32 93.03,35.48 94.21,35.64 95.38,35.82 96.55,36.02 97.73,36.23 98.90,36.46 100.07,36.71 101.24,36.97 102.42,37.25 103.59,37.56 104.76,37.89 105.93,38.23 107.11,38.61 108.28,39.00 109.45,39.42 110.62,39.86 111.80,40.33 112.97,40.83 114.14,41.34 115.32,41.89 116.49,42.46 117.66,43.05 118.83,43.67 120.01,44.31 121.18,44.98 122.35,45.67 123.52,46.38 124.70,47.11 125.87,47.86 127.04,48.63 128.21,49.42 129.39,50.23 130.56,51.05 131.73,51.90 132.91,52.75 134.08,53.62 135.25,54.50 136.42,55.40 137.60,56.30 138.77,57.22 139.94,58.14 141.11,59.08 142.29,60.02 143.46,60.97 144.63,61.93 145.80,62.90 146.98,63.87 148.15,64.84 149.32,65.82 150.49,66.81 151.67,67.80 152.84,68.79 154.01,69.79 155.19,70.79 156.36,71.80 157.53,72.80 158.70,73.81 159.88,74.82 161.05,75.84 162.22,76.85 163.39,77.87 164.57,78.89 165.74,79.91 166.91,80.93 168.08,81.95 169.26,82.97 170.43,84.00 171.60,85.02 172.78,86.05 173.95,87.07 175.12,88.10 176.29,89.13 177.47,90.15 178.64,91.18 179.81,92.21 180.98,93.24 182.16,94.27 183.33,95.30 184.50,96.33 185.67,97.36 186.85,98.39 188.02,99.43 189.19,100.46 190.37,101.49 191.54,102.52 192.71,103.55 193.88,104.58 195.06,105.62 196.23,106.65 197.40,107.68 198.57,108.71 199.75,109.75 200.92,110.78 202.09,111.81 203.26,112.84 204.44,113.88 205.61,114.91 206.78,115.94 207.96,116.98 209.13,118.01 210.30,119.04 211.47,120.07 212.65,121.11 213.82,122.14 214.99,123.17 216.16,124.21 217.34,125.24 218.51,126.27 219.68,127.31 220.85,128.34 222.03,129.37 223.20,130.41" fill="none" stroke="#e98062" stroke-width="2.6"/>
<polyline points="60.20,33.83 61.37,33.84 62.55,33.85 63.72,33.87 64.89,33.88 66.06,33.90 67.24,33.92 68.41,33.95 69.58,33.97 70.75,34.00 71.93,34.03 73.10,34.06 74.27,34.10 75.44,34.14 76.62,34.18 77.79,34.23 78.96,34.28 80.14,34.34 81.31,34.41 82.48,34.47 83.65,34.55 84.83,34.63 86.00,34.73 87.17,34.83 88.34,34.93 89.52,35.05 90.69,35.18 91.86,35.32 93.03,35.48 94.21,35.64 95.38,35.82 96.55,36.02 97.73,36.23 98.90,36.46 100.07,36.71 101.24,36.97 102.42,37.25 103.59,37.56 104.76,37.89 105.93,38.23 107.11,38.61 108.28,39.00 109.45,39.42 110.62,39.86 111.80,40.33 112.97,40.83 114.14,41.34 115.32,41.89 116.49,42.46 117.66,43.05 118.83,43.67 120.01,44.31 121.18,44.98 122.35,45.67 123.52,46.38 124.70,47.11 125.87,47.86 127.04,48.63 128.21,49.42 129.39,50.23 130.56,51.05 131.73,51.90 132.91,52.75 134.08,53.62 135.25,54.50 136.42,55.40 137.60,56.30 138.77,57.22 139.94,58.14 141.11,59.08 142.29,60.02 143.46,60.97 144.63,61.93 145.80,62.90 146.98,63.87 148.15,64.84 149.32,65.82 150.49,66.81 151.67,67.80 152.84,68.79 154.01,69.79 155.19,70.79 156.36,71.80 157.53,72.80 158.70,73.81 159.88,74.82 161.05,75.84 162.22,76.85 163.39,77.87 164.57,78.89 165.74,79.91 166.91,80.93 168.08,81.95 169.26,82.97 170.43,84.00 171.60,85.02 172.78,86.05 173.95,87.07 175.12,88.10 176.29,89.13 177.47,90.15 178.64,91.18 179.81,92.21 180.98,93.24 182.16,94.27 183.33,95.30 184.50,96.33 185.67,97.36 186.85,98.39 188.02,99.43 189.19,100.46 190.37,101.49 191.54,102.52 192.71,103.55 193.88,104.58 195.06,105.62 196.23,106.65 197.40,107.68 198.57,108.71 199.75,109.75 200.92,110.78 202.09,111.81 203.26,112.84 204.44,113.88 205.61,114.91 206.78,115.94 207.96,116.98 209.13,118.01 210.30,119.04 211.47,120.07 212.65,121.11 213.82,122.14 214.99,123.17 216.16,124.21 217.34,125.24 218.51,126.27 219.68,127.31 220.85,128.34 222.03,129.37 223.20,130.41" fill="none" stroke="#d82a1e" stroke-width="1.4" stroke-dasharray="0.1 5.4" stroke-linecap="round" opacity="0.75"/>
<rect x="56.30" y="31.18" width="7.8" height="1.3" fill="#d82a1e"/>
<rect x="56.30" y="35.18" width="7.8" height="1.3" fill="#d82a1e"/>
<rect x="59.60" y="31.83" width="1.2" height="4.00" fill="#d82a1e"/>
<rect x="70.00" y="31.44" width="7.8" height="1.3" fill="#d82a1e"/>
<rect x="70.00" y="35.44" width="7.8" height="1.3" fill="#d82a1e"/>
<rect x="73.30" y="32.09" width="1.2" height="4.00" fill="#d82a1e"/>
<rect x="83.90" y="32.23" width="7.8" height="1.3" fill="#d82a1e"/>
<rect x="83.90" y="36.23" width="7.8" height="1.3" fill="#d82a1e"/>
<rect x="87.20" y="32.88" width="1.2" height="4.00" fill="#d82a1e"/>
<rect x="97.70" y="34.40" width="7.8" height="1.3" fill="#d82a1e"/>
<rect x="97.70" y="38.40" width="7.8" height="1.3" fill="#d82a1e"/>
<rect x="101.00" y="35.05" width="1.2" height="4.00" fill="#d82a1e"/>
<rect x="111.30" y="39.48" width="7.8" height="1.3" fill="#d82a1e"/>
<rect x="111.30" y="42.88" width="7.8" height="1.3" fill="#d82a1e"/>
<rect x="114.60" y="40.13" width="1.2" height="3.40" fill="#d82a1e"/>
<rect x="125.20" y="48.18" width="7.8" height="1.3" fill="#d82a1e"/>
<rect x="125.20" y="50.58" width="7.8" height="1.3" fill="#d82a1e"/>
<rect x="128.50" y="48.83" width="1.2" height="2.40" fill="#d82a1e"/>
<rect x="138.90" y="58.99" width="7.8" height="1.5" fill="#d82a1e"/>
<rect x="138.90" y="60.39" width="7.8" height="1.5" fill="#d82a1e"/>
<rect x="152.80" y="70.80" width="7.8" height="1.5" fill="#d82a1e"/>
<rect x="152.80" y="71.90" width="7.8" height="1.5" fill="#d82a1e"/>
<rect x="166.80" y="82.90" width="7.8" height="1.5" fill="#d82a1e"/>
<rect x="166.80" y="84.00" width="7.8" height="1.5" fill="#d82a1e"/>
<rect x="180.10" y="94.70" width="7.8" height="1.5" fill="#d82a1e"/>
<rect x="180.10" y="95.80" width="7.8" height="1.5" fill="#d82a1e"/>
<rect x="193.50" y="106.00" width="7.8" height="1.5" fill="#d82a1e"/>
<rect x="193.50" y="107.10" width="7.8" height="1.5" fill="#d82a1e"/>
<rect x="206.60" y="117.70" width="7.8" height="1.5" fill="#d82a1e"/>
<rect x="206.60" y="118.80" width="7.8" height="1.5" fill="#d82a1e"/>
<rect x="219.30" y="129.50" width="7.8" height="1.5" fill="#d82a1e"/>
<rect x="219.30" y="130.60" width="7.8" height="1.5" fill="#d82a1e"/>
<rect x="25.7" y="4.7" width="213.9" height="241.9" fill="none" stroke="#231f20" stroke-width="1.5"/>
<line x1="32.50" y1="246.6" x2="32.50" y2="242.1" stroke="#231f20" stroke-width="1.3"/>
<line x1="32.50" y1="4.7" x2="32.50" y2="9.5" stroke="#231f20" stroke-width="1.3"/>
<text x="26.74 31.10" y="261.1" style="font-family:'Liberation Serif',serif;font-size:13.6px;" fill="#231f20" stroke="#231f20" stroke-width="0" >-8</text>
<line x1="60.17" y1="246.6" x2="60.17" y2="242.1" stroke="#231f20" stroke-width="1.3"/>
<line x1="60.17" y1="4.7" x2="60.17" y2="9.5" stroke="#231f20" stroke-width="1.3"/>
<text x="54.41 58.77" y="261.1" style="font-family:'Liberation Serif',serif;font-size:13.6px;" fill="#231f20" stroke="#231f20" stroke-width="0" >-7</text>
<line x1="87.84" y1="246.6" x2="87.84" y2="242.1" stroke="#231f20" stroke-width="1.3"/>
<line x1="87.84" y1="4.7" x2="87.84" y2="9.5" stroke="#231f20" stroke-width="1.3"/>
<text x="82.08 86.44" y="261.1" style="font-family:'Liberation Serif',serif;font-size:13.6px;" fill="#231f20" stroke="#231f20" stroke-width="0" >-6</text>
<line x1="115.51" y1="246.6" x2="115.51" y2="242.1" stroke="#231f20" stroke-width="1.3"/>
<line x1="115.51" y1="4.7" x2="115.51" y2="9.5" stroke="#231f20" stroke-width="1.3"/>
<text x="109.75 114.11" y="261.1" style="font-family:'Liberation Serif',serif;font-size:13.6px;" fill="#231f20" stroke="#231f20" stroke-width="0" >-5</text>
<line x1="143.18" y1="246.6" x2="143.18" y2="242.1" stroke="#231f20" stroke-width="1.3"/>
<line x1="143.18" y1="4.7" x2="143.18" y2="9.5" stroke="#231f20" stroke-width="1.3"/>
<text x="137.42 141.78" y="261.1" style="font-family:'Liberation Serif',serif;font-size:13.6px;" fill="#231f20" stroke="#231f20" stroke-width="0" >-4</text>
<line x1="170.85" y1="246.6" x2="170.85" y2="242.1" stroke="#231f20" stroke-width="1.3"/>
<line x1="170.85" y1="4.7" x2="170.85" y2="9.5" stroke="#231f20" stroke-width="1.3"/>
<text x="165.09 169.45" y="261.1" style="font-family:'Liberation Serif',serif;font-size:13.6px;" fill="#231f20" stroke="#231f20" stroke-width="0" >-3</text>
<line x1="198.52" y1="246.6" x2="198.52" y2="242.1" stroke="#231f20" stroke-width="1.3"/>
<line x1="198.52" y1="4.7" x2="198.52" y2="9.5" stroke="#231f20" stroke-width="1.3"/>
<text x="192.76 197.12" y="261.1" style="font-family:'Liberation Serif',serif;font-size:13.6px;" fill="#231f20" stroke="#231f20" stroke-width="0" >-2</text>
<line x1="226.19" y1="246.6" x2="226.19" y2="242.1" stroke="#231f20" stroke-width="1.3"/>
<line x1="226.19" y1="4.7" x2="226.19" y2="9.5" stroke="#231f20" stroke-width="1.3"/>
<text x="220.43 224.79" y="261.1" style="font-family:'Liberation Serif',serif;font-size:13.6px;" fill="#231f20" stroke="#231f20" stroke-width="0" >-1</text>
<line x1="25.7" y1="47" x2="30.5" y2="47" stroke="#231f20" stroke-width="1.3"/>
<line x1="239.6" y1="47" x2="234.8" y2="47" stroke="#231f20" stroke-width="1.3"/>
<line x1="25.7" y1="88.9" x2="30.5" y2="88.9" stroke="#231f20" stroke-width="1.3"/>
<line x1="239.6" y1="88.9" x2="234.8" y2="88.9" stroke="#231f20" stroke-width="1.3"/>
<line x1="25.7" y1="130.8" x2="30.5" y2="130.8" stroke="#231f20" stroke-width="1.3"/>
<line x1="239.6" y1="130.8" x2="234.8" y2="130.8" stroke="#231f20" stroke-width="1.3"/>
<line x1="25.7" y1="172.8" x2="30.5" y2="172.8" stroke="#231f20" stroke-width="1.3"/>
<line x1="239.6" y1="172.8" x2="234.8" y2="172.8" stroke="#231f20" stroke-width="1.3"/>
<line x1="25.7" y1="214.7" x2="30.5" y2="214.7" stroke="#231f20" stroke-width="1.3"/>
<line x1="239.6" y1="214.7" x2="234.8" y2="214.7" stroke="#231f20" stroke-width="1.3"/>
<text x="103.6" y="278.8" textLength="17.8" lengthAdjust="spacingAndGlyphs" style="font-family:'Liberation Serif',serif;font-size:14.5px" fill="#231f20">log</text>
<text x="123.2" y="278.8" style="font-family:'Liberation Serif',serif;font-size:13.5px;font-style:italic" fill="#231f20">a</text>
<text x="130.6" y="280.5" textLength="31" lengthAdjust="spacingAndGlyphs" style="font-family:'Liberation Serif',serif;font-size:11.5px" fill="#231f20">acetate</text>
<g transform="translate(14.0,152.4) rotate(-90)">
<text x="0.41" y="0" style="font-family:'Liberation Serif',serif;font-size:13.2px;" fill="#231f20" stroke="#231f20" stroke-width="0" >&#916;</text>
<text x="9.34" y="0" style="font-family:'Liberation Serif',serif;font-size:13.2px;font-style:italic;" fill="#231f20" stroke="#231f20" stroke-width="0" >E</text>
<text x="32.59 43.33" y="0" style="font-family:'Liberation Serif',serif;font-size:13.2px;" fill="#231f20" stroke="#231f20" stroke-width="0" >mV</text><line x1="21.65" y1="1.60" x2="27.77" y2="-9.50" stroke="#231f20" stroke-width="1.05"/>
</g>
<text x="115.75" y="299.4" style="font-family:'Liberation Serif',serif;font-size:12.6px;" fill="#231f20" stroke="#231f20" stroke-width="0" >(</text>
<text x="119.70" y="299.4" style="font-family:'Liberation Serif',serif;font-size:12.6px;font-weight:bold;" fill="#231f20" stroke="#231f20" stroke-width="0" >a</text>
<text x="125.75" y="299.4" style="font-family:'Liberation Serif',serif;font-size:12.6px;" fill="#231f20" stroke="#231f20" stroke-width="0" >)</text>
<text x="178.80 185.35 191.90 202.01 212.61" y="72.8" style="font-family:'Liberation Serif',serif;font-size:13.9px;" fill="#231f20" stroke="#231f20" stroke-width="0" >100mV</text>
<line x1="233.1" y1="52" x2="233.1" y2="84" stroke="#111" stroke-width="1.8"/>
<polyline points="229.7,57.6 233.1,51.6 236.5,57.6" fill="none" stroke="#111" stroke-width="1.9" stroke-linejoin="miter"/>
<polyline points="229.7,78.3 233.1,84.3 236.5,78.3" fill="none" stroke="#111" stroke-width="1.9" stroke-linejoin="miter"/>
<g transform="translate(43.8,34.5) rotate(45)"><path d="M-1.25,-4.15 H1.25 V-1.25 H4.15 V1.25 H1.25 V4.15 H-1.25 V1.25 H-4.15 V-1.25 H-1.25 Z" fill="none" stroke="#d82a1e" stroke-width="1.35" stroke-linejoin="round"/></g>
<path d="M43.8,44.6 L49.599999999999994,50.2 L43.8,55.800000000000004 L38.0,50.2 Z" fill="none" stroke="#f07424" stroke-width="1.5"/>
<rect x="39.9" y="69.6" width="7.8" height="7.8" fill="none" stroke="#1fa5e1" stroke-width="1.6"/>
<path d="M43.8,104.2 L47.699999999999996,111.1 L39.9,111.1 Z" fill="none" stroke="#1b6cc4" stroke-width="1.6" stroke-linejoin="miter" stroke-miterlimit="3"/>
<circle cx="43.8" cy="128.2" r="3.6" fill="none" stroke="#111111" stroke-width="1.7"/>
<g transform="translate(40.4,151.1) rotate(45)"><path d="M-1.25,-4.15 H1.25 V-1.25 H4.15 V1.25 H1.25 V4.15 H-1.25 V1.25 H-4.15 V-1.25 H-1.25 Z" fill="none" stroke="#d82a1e" stroke-width="1.35" stroke-linejoin="round"/></g>
<text x="56.09 66.36 75.84 85.85 100.56 107.21" y="155.0" style="font-family:'Liberation Serif',serif;font-size:13.8px;" fill="#231f20" stroke="#231f20" stroke-width="0" >ACD250</text><line x1="93.51" y1="156.60" x2="99.63" y2="145.50" stroke="#231f20" stroke-width="1.05"/>
<path d="M40.4,165.55 L46.199999999999996,171.15 L40.4,176.75 L34.6,171.15 Z" fill="none" stroke="#f07424" stroke-width="1.5"/>
<text x="56.04 68.57 77.76 84.41 91.35 101.35 116.06 122.71" y="175.05" style="font-family:'Liberation Serif',serif;font-size:13.8px;" fill="#231f20" stroke="#231f20" stroke-width="0" >MC12D250</text><line x1="109.02" y1="176.65" x2="115.14" y2="165.55" stroke="#231f20" stroke-width="1.05"/>
<rect x="36.5" y="187.29999999999998" width="7.8" height="7.8" fill="none" stroke="#1fa5e1" stroke-width="1.6"/>
<text x="56.04 68.57 77.76 84.70 94.70 109.41 116.06" y="195.1" style="font-family:'Liberation Serif',serif;font-size:13.8px;" fill="#231f20" stroke="#231f20" stroke-width="0" >MC9D250</text><line x1="102.37" y1="196.70" x2="108.49" y2="185.60" stroke="#231f20" stroke-width="1.05"/>
<path d="M40.4,207.95 L44.3,214.85 L36.5,214.85 Z" fill="none" stroke="#1b6cc4" stroke-width="1.6" stroke-linejoin="miter" stroke-miterlimit="3"/>
<text x="56.04 68.57 77.76 84.70 94.70 109.41 116.06" y="215.15" style="font-family:'Liberation Serif',serif;font-size:13.8px;" fill="#231f20" stroke="#231f20" stroke-width="0" >MC5D250</text><line x1="102.37" y1="216.75" x2="108.49" y2="205.65" stroke="#231f20" stroke-width="1.05"/>
<circle cx="40.4" cy="231.3" r="3.6" fill="none" stroke="#111111" stroke-width="1.7"/>
<text x="56.06 66.07 80.78 87.43" y="235.2" style="font-family:'Liberation Serif',serif;font-size:13.8px;" fill="#231f20" stroke="#231f20" stroke-width="0" >D250</text><line x1="73.73" y1="236.80" x2="79.86" y2="225.70" stroke="#231f20" stroke-width="1.05"/>
</g>
<g transform="translate(302.5,0)">
<polyline points="60.20,128.27 61.37,128.27 62.55,128.28 63.72,128.29 64.89,128.30 66.06,128.31 67.24,128.32 68.41,128.33 69.58,128.34 70.75,128.36 71.93,128.37 73.10,128.39 74.27,128.41 75.44,128.43 76.62,128.46 77.79,128.48 78.96,128.51 80.14,128.54 81.31,128.58 82.48,128.61 83.65,128.65 84.83,128.70 86.00,128.75 87.17,128.81 88.34,128.87 89.52,128.93 90.69,129.00 91.86,129.08 93.03,129.17 94.21,129.26 95.38,129.37 96.55,129.48 97.73,129.60 98.90,129.73 100.07,129.88 101.24,130.03 102.42,130.21 103.59,130.39 104.76,130.59 105.93,130.81 107.11,131.04 108.28,131.29 109.45,131.56 110.62,131.85 111.80,132.16 112.97,132.49 114.14,132.84 115.32,133.21 116.49,133.61 117.66,134.03 118.83,134.48 120.01,134.94 121.18,135.44 122.35,135.95 123.52,136.49 124.70,137.06 125.87,137.64 127.04,138.26 128.21,138.89 129.39,139.54 130.56,140.22 131.73,140.92 132.91,141.63 134.08,142.37 135.25,143.12 136.42,143.89 137.60,144.68 138.77,145.48 139.94,146.29 141.11,147.12 142.29,147.96 143.46,148.82 144.63,149.68 145.80,150.56 146.98,151.44 148.15,152.33 149.32,153.23 150.49,154.14 151.67,155.06 152.84,155.98 154.01,156.90 155.19,157.84 156.36,158.77 157.53,159.72 158.70,160.66 159.88,161.61 161.05,162.57 162.22,163.52 163.39,164.48 164.57,165.44 165.74,166.41 166.91,167.37 168.08,168.34 169.26,169.31 170.43,170.28 171.60,171.25 172.78,172.23 173.95,173.20 175.12,174.18 176.29,175.16 177.47,176.14 178.64,177.12 179.81,178.10 180.98,179.08 182.16,180.06 183.33,181.04 184.50,182.03 185.67,183.01 186.85,183.99 188.02,184.98 189.19,185.96 190.37,186.95 191.54,187.93 192.71,188.92 193.88,189.90 195.06,190.89 196.23,191.87 197.40,192.86 198.57,193.84 199.75,194.83 200.92,195.82 202.09,196.80 203.26,197.79 204.44,198.78 205.61,199.76 206.78,200.75 207.96,201.74 209.13,202.73 210.30,203.71 211.47,204.70 212.65,205.69 213.82,206.68 214.99,207.66 216.16,208.65 217.34,209.64 218.51,210.63 219.68,211.61 220.85,212.60 222.03,213.59 223.20,214.58" fill="none" stroke="#5e5e5e" stroke-width="2.0"/>
<polyline points="60.20,124.19 61.37,124.19 62.55,124.20 63.72,124.21 64.89,124.23 66.06,124.24 67.24,124.25 68.41,124.27 69.58,124.29 70.75,124.31 71.93,124.33 73.10,124.35 74.27,124.37 75.44,124.40 76.62,124.43 77.79,124.47 78.96,124.50 80.14,124.54 81.31,124.59 82.48,124.64 83.65,124.69 84.83,124.75 86.00,124.81 87.17,124.88 88.34,124.96 89.52,125.04 90.69,125.14 91.86,125.24 93.03,125.35 94.21,125.47 95.38,125.60 96.55,125.74 97.73,125.89 98.90,126.06 100.07,126.24 101.24,126.43 102.42,126.65 103.59,126.87 104.76,127.12 105.93,127.38 107.11,127.67 108.28,127.97 109.45,128.30 110.62,128.64 111.80,129.01 112.97,129.40 114.14,129.82 115.32,130.25 116.49,130.72 117.66,131.20 118.83,131.71 120.01,132.25 121.18,132.80 122.35,133.39 123.52,133.99 124.70,134.62 125.87,135.27 127.04,135.94 128.21,136.63 129.39,137.34 130.56,138.07 131.73,138.82 132.91,139.58 134.08,140.37 135.25,141.16 136.42,141.97 137.60,142.80 138.77,143.64 139.94,144.49 141.11,145.35 142.29,146.22 143.46,147.10 144.63,147.99 145.80,148.89 146.98,149.80 148.15,150.71 149.32,151.63 150.49,152.56 151.67,153.49 152.84,154.42 154.01,155.36 155.19,156.31 156.36,157.26 157.53,158.21 158.70,159.17 159.88,160.12 161.05,161.09 162.22,162.05 163.39,163.01 164.57,163.98 165.74,164.95 166.91,165.92 168.08,166.90 169.26,167.87 170.43,168.84 171.60,169.82 172.78,170.80 173.95,171.78 175.12,172.76 176.29,173.74 177.47,174.72 178.64,175.70 179.81,176.68 180.98,177.66 182.16,178.65 183.33,179.63 184.50,180.61 185.67,181.60 186.85,182.58 188.02,183.57 189.19,184.55 190.37,185.54 191.54,186.52 192.71,187.51 193.88,188.50 195.06,189.48 196.23,190.47 197.40,191.45 198.57,192.44 199.75,193.43 200.92,194.41 202.09,195.40 203.26,196.39 204.44,197.38 205.61,198.36 206.78,199.35 207.96,200.34 209.13,201.32 210.30,202.31 211.47,203.30 212.65,204.29 213.82,205.27 214.99,206.26 216.16,207.25 217.34,208.24 218.51,209.22 219.68,210.21 220.85,211.20 222.03,212.19 223.20,213.17" fill="none" stroke="#111111" stroke-width="1.8" stroke-dasharray="0.1 5.4" stroke-linecap="round"/>
<rect x="56.30" y="123.52" width="7.8" height="1.5" fill="#111111"/>
<rect x="56.30" y="131.52" width="7.8" height="1.5" fill="#111111"/>
<rect x="59.60" y="124.27" width="1.2" height="8.00" fill="#111111"/>
<rect x="56.30" y="121.15" width="7.8" height="1.5" fill="#111111"/>
<rect x="56.30" y="125.75" width="7.8" height="1.5" fill="#111111"/>
<rect x="59.60" y="121.90" width="1.2" height="4.60" fill="#111111"/>
<rect x="70.00" y="123.65" width="7.8" height="1.5" fill="#111111"/>
<rect x="70.00" y="131.65" width="7.8" height="1.5" fill="#111111"/>
<rect x="73.30" y="124.40" width="1.2" height="8.00" fill="#111111"/>
<rect x="70.00" y="121.36" width="7.8" height="1.5" fill="#111111"/>
<rect x="70.00" y="125.96" width="7.8" height="1.5" fill="#111111"/>
<rect x="73.30" y="122.11" width="1.2" height="4.60" fill="#111111"/>
<rect x="83.90" y="124.09" width="7.8" height="1.5" fill="#111111"/>
<rect x="83.90" y="132.09" width="7.8" height="1.5" fill="#111111"/>
<rect x="87.20" y="124.84" width="1.2" height="8.00" fill="#111111"/>
<rect x="83.90" y="121.99" width="7.8" height="1.5" fill="#111111"/>
<rect x="83.90" y="126.59" width="7.8" height="1.5" fill="#111111"/>
<rect x="87.20" y="122.74" width="1.2" height="4.60" fill="#111111"/>
<rect x="97.70" y="125.33" width="7.8" height="1.5" fill="#111111"/>
<rect x="97.70" y="133.33" width="7.8" height="1.5" fill="#111111"/>
<rect x="101.00" y="126.08" width="1.2" height="8.00" fill="#111111"/>
<rect x="97.70" y="123.76" width="7.8" height="1.5" fill="#111111"/>
<rect x="97.70" y="128.36" width="7.8" height="1.5" fill="#111111"/>
<rect x="101.00" y="124.51" width="1.2" height="4.60" fill="#111111"/>
<rect x="111.30" y="129.02" width="7.8" height="1.5" fill="#111111"/>
<rect x="111.30" y="135.82" width="7.8" height="1.5" fill="#111111"/>
<rect x="114.60" y="129.77" width="1.2" height="6.80" fill="#111111"/>
<rect x="111.30" y="128.16" width="7.8" height="1.5" fill="#111111"/>
<rect x="111.30" y="132.07" width="7.8" height="1.5" fill="#111111"/>
<rect x="114.60" y="128.91" width="1.2" height="3.91" fill="#111111"/>
<rect x="125.20" y="136.23" width="7.8" height="1.5" fill="#111111"/>
<rect x="125.20" y="141.03" width="7.8" height="1.5" fill="#111111"/>
<rect x="128.50" y="136.98" width="1.2" height="4.80" fill="#111111"/>
<rect x="125.20" y="136.07" width="7.8" height="1.5" fill="#111111"/>
<rect x="125.20" y="138.83" width="7.8" height="1.5" fill="#111111"/>
<rect x="128.50" y="136.82" width="1.2" height="2.76" fill="#111111"/>
<rect x="138.90" y="146.19" width="7.8" height="1.5" fill="#111111"/>
<rect x="138.90" y="148.99" width="7.8" height="1.5" fill="#111111"/>
<rect x="142.20" y="146.94" width="1.2" height="2.80" fill="#111111"/>
<rect x="138.90" y="146.31" width="7.8" height="1.5" fill="#111111"/>
<rect x="138.90" y="147.92" width="7.8" height="1.5" fill="#111111"/>
<rect x="152.80" y="157.40" width="7.8" height="1.5" fill="#111111"/>
<rect x="152.80" y="158.50" width="7.8" height="1.5" fill="#111111"/>
<rect x="166.80" y="169.20" width="7.8" height="1.5" fill="#111111"/>
<rect x="166.80" y="170.30" width="7.8" height="1.5" fill="#111111"/>
<rect x="180.10" y="180.60" width="7.8" height="1.5" fill="#111111"/>
<rect x="180.10" y="181.70" width="7.8" height="1.5" fill="#111111"/>
<rect x="193.50" y="191.70" width="7.8" height="1.5" fill="#111111"/>
<rect x="193.50" y="192.80" width="7.8" height="1.5" fill="#111111"/>
<rect x="206.60" y="202.30" width="7.8" height="1.5" fill="#111111"/>
<rect x="206.60" y="203.40" width="7.8" height="1.5" fill="#111111"/>
<rect x="219.30" y="213.30" width="7.8" height="1.5" fill="#111111"/>
<rect x="219.30" y="214.40" width="7.8" height="1.5" fill="#111111"/>
<polyline points="60.20,115.63 61.37,115.63 62.55,115.63 63.72,115.63 64.89,115.64 66.06,115.64 67.24,115.65 68.41,115.65 69.58,115.66 70.75,115.66 71.93,115.67 73.10,115.68 74.27,115.68 75.44,115.69 76.62,115.70 77.79,115.71 78.96,115.72 80.14,115.74 81.31,115.75 82.48,115.76 83.65,115.78 84.83,115.80 86.00,115.82 87.17,115.84 88.34,115.87 89.52,115.89 90.69,115.92 91.86,115.96 93.03,115.99 94.21,116.03 95.38,116.07 96.55,116.12 97.73,116.17 98.90,116.23 100.07,116.29 101.24,116.36 102.42,116.44 103.59,116.52 104.76,116.61 105.93,116.70 107.11,116.81 108.28,116.93 109.45,117.05 110.62,117.19 111.80,117.34 112.97,117.51 114.14,117.68 115.32,117.87 116.49,118.08 117.66,118.31 118.83,118.55 120.01,118.81 121.18,119.08 122.35,119.38 123.52,119.70 124.70,120.04 125.87,120.41 127.04,120.79 128.21,121.20 129.39,121.63 130.56,122.09 131.73,122.57 132.91,123.08 134.08,123.61 135.25,124.17 136.42,124.74 137.60,125.35 138.77,125.97 139.94,126.62 141.11,127.29 142.29,127.98 143.46,128.69 144.63,129.43 145.80,130.18 146.98,130.95 148.15,131.73 149.32,132.53 150.49,133.35 151.67,134.18 152.84,135.03 154.01,135.88 155.19,136.75 156.36,137.63 157.53,138.52 158.70,139.42 159.88,140.33 161.05,141.24 162.22,142.17 163.39,143.10 164.57,144.03 165.74,144.98 166.91,145.92 168.08,146.88 169.26,147.83 170.43,148.79 171.60,149.76 172.78,150.72 173.95,151.70 175.12,152.67 176.29,153.65 177.47,154.62 178.64,155.60 179.81,156.59 180.98,157.57 182.16,158.56 183.33,159.55 184.50,160.53 185.67,161.52 186.85,162.52 188.02,163.51 189.19,164.50 190.37,165.50 191.54,166.49 192.71,167.49 193.88,168.48 195.06,169.48 196.23,170.48 197.40,171.47 198.57,172.47 199.75,173.47 200.92,174.47 202.09,175.47 203.26,176.47 204.44,177.47 205.61,178.47 206.78,179.47 207.96,180.47 209.13,181.47 210.30,182.47 211.47,183.47 212.65,184.47 213.82,185.47 214.99,186.47 216.16,187.47 217.34,188.47 218.51,189.47 219.68,190.48 220.85,191.48 222.03,192.48 223.20,193.48" fill="none" stroke="#7b9de0" stroke-width="2.6"/>
<polyline points="60.20,106.66 61.37,106.67 62.55,106.68 63.72,106.68 64.89,106.69 66.06,106.70 67.24,106.71 68.41,106.72 69.58,106.74 70.75,106.75 71.93,106.76 73.10,106.78 74.27,106.80 75.44,106.82 76.62,106.84 77.79,106.87 78.96,106.89 80.14,106.92 81.31,106.95 82.48,106.99 83.65,107.03 84.83,107.07 86.00,107.12 87.17,107.17 88.34,107.23 89.52,107.29 90.69,107.36 91.86,107.43 93.03,107.52 94.21,107.61 95.38,107.70 96.55,107.81 97.73,107.93 98.90,108.05 100.07,108.19 101.24,108.34 102.42,108.50 103.59,108.68 104.76,108.87 105.93,109.08 107.11,109.30 108.28,109.54 109.45,109.80 110.62,110.08 111.80,110.38 112.97,110.70 114.14,111.04 115.32,111.40 116.49,111.78 117.66,112.19 118.83,112.63 120.01,113.08 121.18,113.56 122.35,114.07 123.52,114.60 124.70,115.15 125.87,115.73 127.04,116.33 128.21,116.96 129.39,117.61 130.56,118.28 131.73,118.97 132.91,119.68 134.08,120.41 135.25,121.16 136.42,121.93 137.60,122.72 138.77,123.52 139.94,124.33 141.11,125.17 142.29,126.01 143.46,126.87 144.63,127.73 145.80,128.61 146.98,129.50 148.15,130.40 149.32,131.31 150.49,132.23 151.67,133.15 152.84,134.08 154.01,135.02 155.19,135.96 156.36,136.90 157.53,137.86 158.70,138.81 159.88,139.77 161.05,140.74 162.22,141.71 163.39,142.68 164.57,143.65 165.74,144.63 166.91,145.61 168.08,146.59 169.26,147.57 170.43,148.55 171.60,149.54 172.78,150.53 173.95,151.52 175.12,152.51 176.29,153.50 177.47,154.49 178.64,155.48 179.81,156.48 180.98,157.47 182.16,158.47 183.33,159.46 184.50,160.46 185.67,161.46 186.85,162.45 188.02,163.45 189.19,164.45 190.37,165.45 191.54,166.45 192.71,167.45 193.88,168.45 195.06,169.45 196.23,170.45 197.40,171.45 198.57,172.45 199.75,173.45 200.92,174.45 202.09,175.45 203.26,176.45 204.44,177.45 205.61,178.45 206.78,179.45 207.96,180.46 209.13,181.46 210.30,182.46 211.47,183.46 212.65,184.46 213.82,185.46 214.99,186.46 216.16,187.47 217.34,188.47 218.51,189.47 219.68,190.47 220.85,191.47 222.03,192.48 223.20,193.48" fill="none" stroke="#1b6cc4" stroke-width="1.8" stroke-dasharray="0.1 5.4" stroke-linecap="round"/>
<rect x="56.30" y="112.18" width="7.8" height="1.5" fill="#1b6cc4"/>
<rect x="56.30" y="117.58" width="7.8" height="1.5" fill="#1b6cc4"/>
<rect x="59.60" y="112.93" width="1.2" height="5.40" fill="#1b6cc4"/>
<rect x="56.30" y="103.81" width="7.8" height="1.5" fill="#1b6cc4"/>
<rect x="56.30" y="108.01" width="7.8" height="1.5" fill="#1b6cc4"/>
<rect x="59.60" y="104.56" width="1.2" height="4.20" fill="#1b6cc4"/>
<rect x="70.00" y="112.23" width="7.8" height="1.5" fill="#1b6cc4"/>
<rect x="70.00" y="117.63" width="7.8" height="1.5" fill="#1b6cc4"/>
<rect x="73.30" y="112.98" width="1.2" height="5.40" fill="#1b6cc4"/>
<rect x="70.00" y="103.94" width="7.8" height="1.5" fill="#1b6cc4"/>
<rect x="70.00" y="108.14" width="7.8" height="1.5" fill="#1b6cc4"/>
<rect x="73.30" y="104.69" width="1.2" height="4.20" fill="#1b6cc4"/>
<rect x="83.90" y="112.40" width="7.8" height="1.5" fill="#1b6cc4"/>
<rect x="83.90" y="117.80" width="7.8" height="1.5" fill="#1b6cc4"/>
<rect x="87.20" y="113.15" width="1.2" height="5.40" fill="#1b6cc4"/>
<rect x="83.90" y="104.35" width="7.8" height="1.5" fill="#1b6cc4"/>
<rect x="83.90" y="108.55" width="7.8" height="1.5" fill="#1b6cc4"/>
<rect x="87.20" y="105.10" width="1.2" height="4.20" fill="#1b6cc4"/>
<rect x="97.70" y="112.93" width="7.8" height="1.5" fill="#1b6cc4"/>
<rect x="97.70" y="118.33" width="7.8" height="1.5" fill="#1b6cc4"/>
<rect x="101.00" y="113.68" width="1.2" height="5.40" fill="#1b6cc4"/>
<rect x="97.70" y="105.54" width="7.8" height="1.5" fill="#1b6cc4"/>
<rect x="97.70" y="109.74" width="7.8" height="1.5" fill="#1b6cc4"/>
<rect x="101.00" y="106.29" width="1.2" height="4.20" fill="#1b6cc4"/>
<rect x="111.30" y="114.81" width="7.8" height="1.5" fill="#1b6cc4"/>
<rect x="111.30" y="119.40" width="7.8" height="1.5" fill="#1b6cc4"/>
<rect x="114.60" y="115.56" width="1.2" height="4.59" fill="#1b6cc4"/>
<rect x="111.30" y="108.83" width="7.8" height="1.5" fill="#1b6cc4"/>
<rect x="111.30" y="112.40" width="7.8" height="1.5" fill="#1b6cc4"/>
<rect x="114.60" y="109.58" width="1.2" height="3.57" fill="#1b6cc4"/>
<rect x="125.20" y="119.16" width="7.8" height="1.5" fill="#1b6cc4"/>
<rect x="125.20" y="122.40" width="7.8" height="1.5" fill="#1b6cc4"/>
<rect x="128.50" y="119.91" width="1.2" height="3.24" fill="#1b6cc4"/>
<rect x="125.20" y="115.44" width="7.8" height="1.5" fill="#1b6cc4"/>
<rect x="125.20" y="117.96" width="7.8" height="1.5" fill="#1b6cc4"/>
<rect x="128.50" y="116.19" width="1.2" height="2.52" fill="#1b6cc4"/>
<rect x="138.90" y="126.60" width="7.8" height="1.5" fill="#1b6cc4"/>
<rect x="138.90" y="128.49" width="7.8" height="1.5" fill="#1b6cc4"/>
<rect x="142.20" y="127.35" width="1.2" height="1.89" fill="#1b6cc4"/>
<rect x="138.90" y="124.90" width="7.8" height="1.5" fill="#1b6cc4"/>
<rect x="138.90" y="126.37" width="7.8" height="1.5" fill="#1b6cc4"/>
<rect x="152.80" y="136.40" width="7.8" height="1.5" fill="#1b6cc4"/>
<rect x="152.80" y="137.50" width="7.8" height="1.5" fill="#1b6cc4"/>
<rect x="166.80" y="147.20" width="7.8" height="1.5" fill="#1b6cc4"/>
<rect x="166.80" y="148.30" width="7.8" height="1.5" fill="#1b6cc4"/>
<rect x="180.10" y="158.60" width="7.8" height="1.5" fill="#1b6cc4"/>
<rect x="180.10" y="159.70" width="7.8" height="1.5" fill="#1b6cc4"/>
<rect x="193.50" y="170.30" width="7.8" height="1.5" fill="#1b6cc4"/>
<rect x="193.50" y="171.40" width="7.8" height="1.5" fill="#1b6cc4"/>
<rect x="206.60" y="181.40" width="7.8" height="1.5" fill="#1b6cc4"/>
<rect x="206.60" y="182.50" width="7.8" height="1.5" fill="#1b6cc4"/>
<rect x="219.30" y="192.40" width="7.8" height="1.5" fill="#1b6cc4"/>
<rect x="219.30" y="193.50" width="7.8" height="1.5" fill="#1b6cc4"/>
<polyline points="60.20,72.47 61.37,72.48 62.55,72.50 63.72,72.52 64.89,72.54 66.06,72.57 67.24,72.60 68.41,72.63 69.58,72.66 70.75,72.69 71.93,72.73 73.10,72.78 74.27,72.83 75.44,72.88 76.62,72.94 77.79,73.00 78.96,73.07 80.14,73.14 81.31,73.23 82.48,73.32 83.65,73.42 84.83,73.52 86.00,73.64 87.17,73.77 88.34,73.91 89.52,74.06 90.69,74.23 91.86,74.41 93.03,74.60 94.21,74.81 95.38,75.04 96.55,75.28 97.73,75.55 98.90,75.83 100.07,76.13 101.24,76.46 102.42,76.80 103.59,77.17 104.76,77.57 105.93,77.98 107.11,78.43 108.28,78.89 109.45,79.39 110.62,79.90 111.80,80.45 112.97,81.01 114.14,81.61 115.32,82.23 116.49,82.87 117.66,83.53 118.83,84.22 120.01,84.93 121.18,85.66 122.35,86.42 123.52,87.19 124.70,87.98 125.87,88.79 127.04,89.62 128.21,90.46 129.39,91.32 130.56,92.19 131.73,93.07 132.91,93.97 134.08,94.88 135.25,95.80 136.42,96.72 137.60,97.66 138.77,98.61 139.94,99.56 141.11,100.53 142.29,101.49 143.46,102.47 144.63,103.45 145.80,104.43 146.98,105.42 148.15,106.42 149.32,107.42 150.49,108.42 151.67,109.42 152.84,110.43 154.01,111.44 155.19,112.45 156.36,113.47 157.53,114.49 158.70,115.51 159.88,116.53 161.05,117.55 162.22,118.58 163.39,119.60 164.57,120.63 165.74,121.66 166.91,122.68 168.08,123.71 169.26,124.74 170.43,125.78 171.60,126.81 172.78,127.84 173.95,128.87 175.12,129.91 176.29,130.94 177.47,131.97 178.64,133.01 179.81,134.04 180.98,135.08 182.16,136.11 183.33,137.15 184.50,138.19 185.67,139.22 186.85,140.26 188.02,141.30 189.19,142.33 190.37,143.37 191.54,144.41 192.71,145.44 193.88,146.48 195.06,147.52 196.23,148.56 197.40,149.59 198.57,150.63 199.75,151.67 200.92,152.71 202.09,153.74 203.26,154.78 204.44,155.82 205.61,156.86 206.78,157.90 207.96,158.93 209.13,159.97 210.30,161.01 211.47,162.05 212.65,163.09 213.82,164.12 214.99,165.16 216.16,166.20 217.34,167.24 218.51,168.28 219.68,169.31 220.85,170.35 222.03,171.39 223.20,172.43" fill="none" stroke="#80ccf0" stroke-width="2.6"/>
<polyline points="60.20,72.47 61.37,72.48 62.55,72.50 63.72,72.52 64.89,72.54 66.06,72.57 67.24,72.60 68.41,72.63 69.58,72.66 70.75,72.69 71.93,72.73 73.10,72.78 74.27,72.83 75.44,72.88 76.62,72.94 77.79,73.00 78.96,73.07 80.14,73.14 81.31,73.23 82.48,73.32 83.65,73.42 84.83,73.52 86.00,73.64 87.17,73.77 88.34,73.91 89.52,74.06 90.69,74.23 91.86,74.41 93.03,74.60 94.21,74.81 95.38,75.04 96.55,75.28 97.73,75.55 98.90,75.83 100.07,76.13 101.24,76.46 102.42,76.80 103.59,77.17 104.76,77.57 105.93,77.98 107.11,78.43 108.28,78.89 109.45,79.39 110.62,79.90 111.80,80.45 112.97,81.01 114.14,81.61 115.32,82.23 116.49,82.87 117.66,83.53 118.83,84.22 120.01,84.93 121.18,85.66 122.35,86.42 123.52,87.19 124.70,87.98 125.87,88.79 127.04,89.62 128.21,90.46 129.39,91.32 130.56,92.19 131.73,93.07 132.91,93.97 134.08,94.88 135.25,95.80 136.42,96.72 137.60,97.66 138.77,98.61 139.94,99.56 141.11,100.53 142.29,101.49 143.46,102.47 144.63,103.45 145.80,104.43 146.98,105.42 148.15,106.42 149.32,107.42 150.49,108.42 151.67,109.42 152.84,110.43 154.01,111.44 155.19,112.45 156.36,113.47 157.53,114.49 158.70,115.51 159.88,116.53 161.05,117.55 162.22,118.58 163.39,119.60 164.57,120.63 165.74,121.66 166.91,122.68 168.08,123.71 169.26,124.74 170.43,125.78 171.60,126.81 172.78,127.84 173.95,128.87 175.12,129.91 176.29,130.94 177.47,131.97 178.64,133.01 179.81,134.04 180.98,135.08 182.16,136.11 183.33,137.15 184.50,138.19 185.67,139.22 186.85,140.26 188.02,141.30 189.19,142.33 190.37,143.37 191.54,144.41 192.71,145.44 193.88,146.48 195.06,147.52 196.23,148.56 197.40,149.59 198.57,150.63 199.75,151.67 200.92,152.71 202.09,153.74 203.26,154.78 204.44,155.82 205.61,156.86 206.78,157.90 207.96,158.93 209.13,159.97 210.30,161.01 211.47,162.05 212.65,163.09 213.82,164.12 214.99,165.16 216.16,166.20 217.34,167.24 218.51,168.28 219.68,169.31 220.85,170.35 222.03,171.39 223.20,172.43" fill="none" stroke="#1fa5e1" stroke-width="1.4" stroke-dasharray="0.1 5.4" stroke-linecap="round" opacity="0.75"/>
<rect x="56.30" y="69.82" width="7.8" height="1.5" fill="#1fa5e1"/>
<rect x="56.30" y="73.62" width="7.8" height="1.5" fill="#1fa5e1"/>
<rect x="59.60" y="70.57" width="1.2" height="3.80" fill="#1fa5e1"/>
<rect x="56.30" y="71.36" width="7.8" height="1.5" fill="#1fa5e1"/>
<rect x="56.30" y="72.46" width="7.8" height="1.5" fill="#1fa5e1"/>
<rect x="70.00" y="70.16" width="7.8" height="1.5" fill="#1fa5e1"/>
<rect x="70.00" y="73.96" width="7.8" height="1.5" fill="#1fa5e1"/>
<rect x="73.30" y="70.91" width="1.2" height="3.80" fill="#1fa5e1"/>
<rect x="70.00" y="71.70" width="7.8" height="1.5" fill="#1fa5e1"/>
<rect x="70.00" y="72.80" width="7.8" height="1.5" fill="#1fa5e1"/>
<rect x="83.90" y="71.19" width="7.8" height="1.5" fill="#1fa5e1"/>
<rect x="83.90" y="74.99" width="7.8" height="1.5" fill="#1fa5e1"/>
<rect x="87.20" y="71.94" width="1.2" height="3.80" fill="#1fa5e1"/>
<rect x="83.90" y="72.72" width="7.8" height="1.5" fill="#1fa5e1"/>
<rect x="83.90" y="73.82" width="7.8" height="1.5" fill="#1fa5e1"/>
<rect x="97.70" y="73.91" width="7.8" height="1.5" fill="#1fa5e1"/>
<rect x="97.70" y="77.71" width="7.8" height="1.5" fill="#1fa5e1"/>
<rect x="101.00" y="74.66" width="1.2" height="3.80" fill="#1fa5e1"/>
<rect x="97.70" y="75.39" width="7.8" height="1.5" fill="#1fa5e1"/>
<rect x="97.70" y="76.49" width="7.8" height="1.5" fill="#1fa5e1"/>
<rect x="111.30" y="79.80" width="7.8" height="1.5" fill="#1fa5e1"/>
<rect x="111.30" y="83.03" width="7.8" height="1.5" fill="#1fa5e1"/>
<rect x="114.60" y="80.55" width="1.2" height="3.23" fill="#1fa5e1"/>
<rect x="111.30" y="80.94" width="7.8" height="1.5" fill="#1fa5e1"/>
<rect x="111.30" y="82.04" width="7.8" height="1.5" fill="#1fa5e1"/>
<rect x="125.20" y="89.21" width="7.8" height="1.5" fill="#1fa5e1"/>
<rect x="125.20" y="91.49" width="7.8" height="1.5" fill="#1fa5e1"/>
<rect x="128.50" y="89.96" width="1.2" height="2.28" fill="#1fa5e1"/>
<rect x="125.20" y="89.84" width="7.8" height="1.5" fill="#1fa5e1"/>
<rect x="125.20" y="90.94" width="7.8" height="1.5" fill="#1fa5e1"/>
<rect x="138.90" y="100.50" width="7.8" height="1.5" fill="#1fa5e1"/>
<rect x="138.90" y="101.83" width="7.8" height="1.5" fill="#1fa5e1"/>
<rect x="138.90" y="100.63" width="7.8" height="1.5" fill="#1fa5e1"/>
<rect x="138.90" y="101.73" width="7.8" height="1.5" fill="#1fa5e1"/>
<rect x="152.80" y="113.20" width="7.8" height="1.5" fill="#1fa5e1"/>
<rect x="152.80" y="114.30" width="7.8" height="1.5" fill="#1fa5e1"/>
<rect x="166.80" y="125.20" width="7.8" height="1.5" fill="#1fa5e1"/>
<rect x="166.80" y="126.30" width="7.8" height="1.5" fill="#1fa5e1"/>
<rect x="180.10" y="135.90" width="7.8" height="1.5" fill="#1fa5e1"/>
<rect x="180.10" y="137.00" width="7.8" height="1.5" fill="#1fa5e1"/>
<rect x="193.50" y="147.70" width="7.8" height="1.5" fill="#1fa5e1"/>
<rect x="193.50" y="148.80" width="7.8" height="1.5" fill="#1fa5e1"/>
<rect x="206.60" y="159.90" width="7.8" height="1.5" fill="#1fa5e1"/>
<rect x="206.60" y="161.00" width="7.8" height="1.5" fill="#1fa5e1"/>
<rect x="219.30" y="171.50" width="7.8" height="1.5" fill="#1fa5e1"/>
<rect x="219.30" y="172.60" width="7.8" height="1.5" fill="#1fa5e1"/>
<polyline points="60.20,47.14 61.37,47.17 62.55,47.20 63.72,47.23 64.89,47.26 66.06,47.29 67.24,47.33 68.41,47.38 69.58,47.43 70.75,47.48 71.93,47.53 73.10,47.60 74.27,47.67 75.44,47.74 76.62,47.83 77.79,47.92 78.96,48.01 80.14,48.12 81.31,48.24 82.48,48.37 83.65,48.51 84.83,48.66 86.00,48.83 87.17,49.00 88.34,49.20 89.52,49.41 90.69,49.64 91.86,49.88 93.03,50.14 94.21,50.43 95.38,50.73 96.55,51.05 97.73,51.40 98.90,51.77 100.07,52.17 101.24,52.58 102.42,53.03 103.59,53.49 104.76,53.99 105.93,54.50 107.11,55.05 108.28,55.62 109.45,56.21 110.62,56.83 111.80,57.47 112.97,58.14 114.14,58.83 115.32,59.54 116.49,60.27 117.66,61.03 118.83,61.80 120.01,62.60 121.18,63.41 122.35,64.24 123.52,65.08 124.70,65.94 125.87,66.82 127.04,67.70 128.21,68.60 129.39,69.52 130.56,70.44 131.73,71.37 132.91,72.31 134.08,73.26 135.25,74.22 136.42,75.18 137.60,76.16 138.77,77.13 139.94,78.12 141.11,79.11 142.29,80.10 143.46,81.10 144.63,82.10 145.80,83.11 146.98,84.12 148.15,85.13 149.32,86.14 150.49,87.16 151.67,88.18 152.84,89.20 154.01,90.23 155.19,91.25 156.36,92.28 157.53,93.31 158.70,94.34 159.88,95.37 161.05,96.40 162.22,97.43 163.39,98.46 164.57,99.50 165.74,100.53 166.91,101.57 168.08,102.61 169.26,103.64 170.43,104.68 171.60,105.72 172.78,106.76 173.95,107.80 175.12,108.84 176.29,109.88 177.47,110.92 178.64,111.96 179.81,113.00 180.98,114.04 182.16,115.08 183.33,116.12 184.50,117.16 185.67,118.20 186.85,119.24 188.02,120.28 189.19,121.33 190.37,122.37 191.54,123.41 192.71,124.45 193.88,125.49 195.06,126.53 196.23,127.58 197.40,128.62 198.57,129.66 199.75,130.70 200.92,131.74 202.09,132.79 203.26,133.83 204.44,134.87 205.61,135.91 206.78,136.96 207.96,138.00 209.13,139.04 210.30,140.08 211.47,141.13 212.65,142.17 213.82,143.21 214.99,144.25 216.16,145.29 217.34,146.34 218.51,147.38 219.68,148.42 220.85,149.46 222.03,150.51 223.20,151.55" fill="none" stroke="#f6a775" stroke-width="2.6"/>
<polyline points="60.20,50.58 61.37,50.59 62.55,50.61 63.72,50.64 64.89,50.66 66.06,50.69 67.24,50.71 68.41,50.75 69.58,50.78 70.75,50.82 71.93,50.86 73.10,50.91 74.27,50.96 75.44,51.01 76.62,51.07 77.79,51.14 78.96,51.21 80.14,51.29 81.31,51.38 82.48,51.48 83.65,51.58 84.83,51.70 86.00,51.82 87.17,51.96 88.34,52.10 89.52,52.26 90.69,52.44 91.86,52.63 93.03,52.83 94.21,53.05 95.38,53.29 96.55,53.55 97.73,53.82 98.90,54.12 100.07,54.44 101.24,54.77 102.42,55.14 103.59,55.52 104.76,55.93 105.93,56.36 107.11,56.82 108.28,57.31 109.45,57.82 110.62,58.35 111.80,58.91 112.97,59.50 114.14,60.11 115.32,60.74 116.49,61.40 117.66,62.08 118.83,62.78 120.01,63.51 121.18,64.26 122.35,65.03 123.52,65.81 124.70,66.62 125.87,67.44 127.04,68.28 128.21,69.13 129.39,70.00 130.56,70.89 131.73,71.78 132.91,72.69 134.08,73.61 135.25,74.54 136.42,75.47 137.60,76.42 138.77,77.38 139.94,78.34 141.11,79.31 142.29,80.28 143.46,81.27 144.63,82.25 145.80,83.25 146.98,84.24 148.15,85.24 149.32,86.25 150.49,87.26 151.67,88.27 152.84,89.28 154.01,90.30 155.19,91.32 156.36,92.34 157.53,93.36 158.70,94.38 159.88,95.41 161.05,96.44 162.22,97.47 163.39,98.50 164.57,99.53 165.74,100.56 166.91,101.60 168.08,102.63 169.26,103.66 170.43,104.70 171.60,105.74 172.78,106.77 173.95,107.81 175.12,108.85 176.29,109.89 177.47,110.93 178.64,111.97 179.81,113.01 180.98,114.04 182.16,115.08 183.33,116.13 184.50,117.17 185.67,118.21 186.85,119.25 188.02,120.29 189.19,121.33 190.37,122.37 191.54,123.41 192.71,124.45 193.88,125.49 195.06,126.54 196.23,127.58 197.40,128.62 198.57,129.66 199.75,130.70 200.92,131.75 202.09,132.79 203.26,133.83 204.44,134.87 205.61,135.91 206.78,136.96 207.96,138.00 209.13,139.04 210.30,140.08 211.47,141.13 212.65,142.17 213.82,143.21 214.99,144.25 216.16,145.30 217.34,146.34 218.51,147.38 219.68,148.42 220.85,149.47 222.03,150.51 223.20,151.55" fill="none" stroke="#f07424" stroke-width="1.8" stroke-dasharray="0.1 5.4" stroke-linecap="round"/>
<rect x="56.30" y="45.49" width="7.8" height="1.3" fill="#f07424"/>
<rect x="56.30" y="47.49" width="7.8" height="1.3" fill="#f07424"/>
<rect x="59.60" y="46.14" width="1.2" height="2.00" fill="#f07424"/>
<rect x="56.30" y="48.98" width="7.8" height="1.3" fill="#f07424"/>
<rect x="56.30" y="50.88" width="7.8" height="1.3" fill="#f07424"/>
<rect x="59.60" y="49.63" width="1.2" height="1.90" fill="#f07424"/>
<rect x="70.00" y="45.99" width="7.8" height="1.3" fill="#f07424"/>
<rect x="70.00" y="47.99" width="7.8" height="1.3" fill="#f07424"/>
<rect x="73.30" y="46.64" width="1.2" height="2.00" fill="#f07424"/>
<rect x="70.00" y="49.34" width="7.8" height="1.3" fill="#f07424"/>
<rect x="70.00" y="51.24" width="7.8" height="1.3" fill="#f07424"/>
<rect x="73.30" y="49.99" width="1.2" height="1.90" fill="#f07424"/>
<rect x="83.90" y="47.46" width="7.8" height="1.3" fill="#f07424"/>
<rect x="83.90" y="49.46" width="7.8" height="1.3" fill="#f07424"/>
<rect x="87.20" y="48.11" width="1.2" height="2.00" fill="#f07424"/>
<rect x="83.90" y="50.43" width="7.8" height="1.3" fill="#f07424"/>
<rect x="83.90" y="52.33" width="7.8" height="1.3" fill="#f07424"/>
<rect x="87.20" y="51.08" width="1.2" height="1.90" fill="#f07424"/>
<rect x="97.70" y="51.06" width="7.8" height="1.3" fill="#f07424"/>
<rect x="97.70" y="53.06" width="7.8" height="1.3" fill="#f07424"/>
<rect x="101.00" y="51.71" width="1.2" height="2.00" fill="#f07424"/>
<rect x="97.70" y="53.28" width="7.8" height="1.3" fill="#f07424"/>
<rect x="97.70" y="55.18" width="7.8" height="1.3" fill="#f07424"/>
<rect x="101.00" y="53.93" width="1.2" height="1.90" fill="#f07424"/>
<rect x="111.30" y="57.87" width="7.8" height="1.5" fill="#f07424"/>
<rect x="111.30" y="59.57" width="7.8" height="1.5" fill="#f07424"/>
<rect x="111.30" y="59.12" width="7.8" height="1.5" fill="#f07424"/>
<rect x="111.30" y="60.73" width="7.8" height="1.5" fill="#f07424"/>
<rect x="125.20" y="67.94" width="7.8" height="1.5" fill="#f07424"/>
<rect x="125.20" y="69.14" width="7.8" height="1.5" fill="#f07424"/>
<rect x="125.20" y="68.47" width="7.8" height="1.5" fill="#f07424"/>
<rect x="125.20" y="69.61" width="7.8" height="1.5" fill="#f07424"/>
<rect x="138.90" y="79.24" width="7.8" height="1.5" fill="#f07424"/>
<rect x="138.90" y="80.34" width="7.8" height="1.5" fill="#f07424"/>
<rect x="138.90" y="79.41" width="7.8" height="1.5" fill="#f07424"/>
<rect x="138.90" y="80.51" width="7.8" height="1.5" fill="#f07424"/>
<rect x="152.80" y="91.70" width="7.8" height="1.5" fill="#f07424"/>
<rect x="152.80" y="92.80" width="7.8" height="1.5" fill="#f07424"/>
<rect x="166.80" y="103.50" width="7.8" height="1.5" fill="#f07424"/>
<rect x="166.80" y="104.60" width="7.8" height="1.5" fill="#f07424"/>
<rect x="180.10" y="115.20" width="7.8" height="1.5" fill="#f07424"/>
<rect x="180.10" y="116.30" width="7.8" height="1.5" fill="#f07424"/>
<rect x="193.50" y="127.50" width="7.8" height="1.5" fill="#f07424"/>
<rect x="193.50" y="128.60" width="7.8" height="1.5" fill="#f07424"/>
<rect x="206.60" y="139.10" width="7.8" height="1.5" fill="#f07424"/>
<rect x="206.60" y="140.20" width="7.8" height="1.5" fill="#f07424"/>
<rect x="219.30" y="150.10" width="7.8" height="1.5" fill="#f07424"/>
<rect x="219.30" y="151.20" width="7.8" height="1.5" fill="#f07424"/>
<polyline points="60.20,27.13 61.37,27.15 62.55,27.18 63.72,27.20 64.89,27.23 66.06,27.27 67.24,27.30 68.41,27.35 69.58,27.39 70.75,27.44 71.93,27.49 73.10,27.55 74.27,27.62 75.44,27.69 76.62,27.76 77.79,27.85 78.96,27.94 80.14,28.04 81.31,28.15 82.48,28.27 83.65,28.41 84.83,28.55 86.00,28.70 87.17,28.87 88.34,29.06 89.52,29.25 90.69,29.47 91.86,29.70 93.03,29.95 94.21,30.22 95.38,30.50 96.55,30.81 97.73,31.14 98.90,31.50 100.07,31.87 101.24,32.27 102.42,32.70 103.59,33.14 104.76,33.62 105.93,34.12 107.11,34.64 108.28,35.19 109.45,35.76 110.62,36.36 111.80,36.99 112.97,37.63 114.14,38.31 115.32,39.00 116.49,39.71 117.66,40.45 118.83,41.21 120.01,41.99 121.18,42.78 122.35,43.60 123.52,44.43 124.70,45.27 125.87,46.13 127.04,47.01 128.21,47.89 129.39,48.79 130.56,49.70 131.73,50.62 132.91,51.56 134.08,52.50 135.25,53.44 136.42,54.40 137.60,55.36 138.77,56.33 139.94,57.31 141.11,58.29 142.29,59.27 143.46,60.26 144.63,61.26 145.80,62.26 146.98,63.26 148.15,64.26 149.32,65.27 150.49,66.28 151.67,67.30 152.84,68.31 154.01,69.33 155.19,70.35 156.36,71.37 157.53,72.39 158.70,73.42 159.88,74.44 161.05,75.47 162.22,76.50 163.39,77.52 164.57,78.55 165.74,79.58 166.91,80.61 168.08,81.64 169.26,82.68 170.43,83.71 171.60,84.74 172.78,85.77 173.95,86.81 175.12,87.84 176.29,88.88 177.47,89.91 178.64,90.95 179.81,91.98 180.98,93.02 182.16,94.05 183.33,95.09 184.50,96.12 185.67,97.16 186.85,98.20 188.02,99.23 189.19,100.27 190.37,101.31 191.54,102.34 192.71,103.38 193.88,104.42 195.06,105.45 196.23,106.49 197.40,107.53 198.57,108.56 199.75,109.60 200.92,110.64 202.09,111.68 203.26,112.71 204.44,113.75 205.61,114.79 206.78,115.83 207.96,116.86 209.13,117.90 210.30,118.94 211.47,119.98 212.65,121.01 213.82,122.05 214.99,123.09 216.16,124.12 217.34,125.16 218.51,126.20 219.68,127.24 220.85,128.27 222.03,129.31 223.20,130.35" fill="none" stroke="#e98062" stroke-width="2.6"/>
<polyline points="60.20,30.37 61.37,30.38 62.55,30.40 63.72,30.42 64.89,30.45 66.06,30.47 67.24,30.50 68.41,30.53 69.58,30.56 70.75,30.60 71.93,30.64 73.10,30.68 74.27,30.73 75.44,30.78 76.62,30.84 77.79,30.90 78.96,30.97 80.14,31.05 81.31,31.13 82.48,31.22 83.65,31.32 84.83,31.43 86.00,31.55 87.17,31.68 88.34,31.82 89.52,31.97 90.69,32.14 91.86,32.32 93.03,32.52 94.21,32.73 95.38,32.96 96.55,33.20 97.73,33.47 98.90,33.75 100.07,34.06 101.24,34.38 102.42,34.73 103.59,35.10 104.76,35.50 105.93,35.92 107.11,36.36 108.28,36.83 109.45,37.32 110.62,37.84 111.80,38.39 112.97,38.96 114.14,39.55 115.32,40.17 116.49,40.82 117.66,41.48 118.83,42.17 120.01,42.88 121.18,43.62 122.35,44.37 123.52,45.15 124.70,45.94 125.87,46.75 127.04,47.57 128.21,48.42 129.39,49.28 130.56,50.15 131.73,51.03 132.91,51.93 134.08,52.84 135.25,53.76 136.42,54.69 137.60,55.63 138.77,56.57 139.94,57.53 141.11,58.49 142.29,59.46 143.46,60.43 144.63,61.41 145.80,62.40 146.98,63.39 148.15,64.38 149.32,65.38 150.49,66.38 151.67,67.38 152.84,68.39 154.01,69.40 155.19,70.41 156.36,71.43 157.53,72.45 158.70,73.46 159.88,74.49 161.05,75.51 162.22,76.53 163.39,77.56 164.57,78.58 165.74,79.61 166.91,80.64 168.08,81.67 169.26,82.70 170.43,83.73 171.60,84.76 172.78,85.79 173.95,86.82 175.12,87.85 176.29,88.89 177.47,89.92 178.64,90.96 179.81,91.99 180.98,93.02 182.16,94.06 183.33,95.09 184.50,96.13 185.67,97.17 186.85,98.20 188.02,99.24 189.19,100.27 190.37,101.31 191.54,102.35 192.71,103.38 193.88,104.42 195.06,105.46 196.23,106.49 197.40,107.53 198.57,108.57 199.75,109.60 200.92,110.64 202.09,111.68 203.26,112.71 204.44,113.75 205.61,114.79 206.78,115.83 207.96,116.86 209.13,117.90 210.30,118.94 211.47,119.98 212.65,121.01 213.82,122.05 214.99,123.09 216.16,124.13 217.34,125.16 218.51,126.20 219.68,127.24 220.85,128.28 222.03,129.31 223.20,130.35" fill="none" stroke="#d82a1e" stroke-width="1.8" stroke-dasharray="0.1 5.4" stroke-linecap="round"/>
<rect x="56.30" y="25.48" width="7.8" height="1.3" fill="#d82a1e"/>
<rect x="56.30" y="27.48" width="7.8" height="1.3" fill="#d82a1e"/>
<rect x="59.60" y="26.13" width="1.2" height="2.00" fill="#d82a1e"/>
<rect x="56.30" y="28.77" width="7.8" height="1.3" fill="#d82a1e"/>
<rect x="56.30" y="30.67" width="7.8" height="1.3" fill="#d82a1e"/>
<rect x="59.60" y="29.42" width="1.2" height="1.90" fill="#d82a1e"/>
<rect x="70.00" y="25.95" width="7.8" height="1.3" fill="#d82a1e"/>
<rect x="70.00" y="27.95" width="7.8" height="1.3" fill="#d82a1e"/>
<rect x="73.30" y="26.60" width="1.2" height="2.00" fill="#d82a1e"/>
<rect x="70.00" y="29.11" width="7.8" height="1.3" fill="#d82a1e"/>
<rect x="70.00" y="31.01" width="7.8" height="1.3" fill="#d82a1e"/>
<rect x="73.30" y="29.76" width="1.2" height="1.90" fill="#d82a1e"/>
<rect x="83.90" y="27.32" width="7.8" height="1.3" fill="#d82a1e"/>
<rect x="83.90" y="29.32" width="7.8" height="1.3" fill="#d82a1e"/>
<rect x="87.20" y="27.97" width="1.2" height="2.00" fill="#d82a1e"/>
<rect x="83.90" y="30.15" width="7.8" height="1.3" fill="#d82a1e"/>
<rect x="83.90" y="32.05" width="7.8" height="1.3" fill="#d82a1e"/>
<rect x="87.20" y="30.80" width="1.2" height="1.90" fill="#d82a1e"/>
<rect x="97.70" y="30.75" width="7.8" height="1.3" fill="#d82a1e"/>
<rect x="97.70" y="32.75" width="7.8" height="1.3" fill="#d82a1e"/>
<rect x="101.00" y="31.40" width="1.2" height="2.00" fill="#d82a1e"/>
<rect x="97.70" y="32.89" width="7.8" height="1.3" fill="#d82a1e"/>
<rect x="97.70" y="34.79" width="7.8" height="1.3" fill="#d82a1e"/>
<rect x="101.00" y="33.54" width="1.2" height="1.90" fill="#d82a1e"/>
<rect x="111.30" y="37.33" width="7.8" height="1.5" fill="#d82a1e"/>
<rect x="111.30" y="39.03" width="7.8" height="1.5" fill="#d82a1e"/>
<rect x="111.30" y="38.55" width="7.8" height="1.5" fill="#d82a1e"/>
<rect x="111.30" y="40.17" width="7.8" height="1.5" fill="#d82a1e"/>
<rect x="125.20" y="47.22" width="7.8" height="1.5" fill="#d82a1e"/>
<rect x="125.20" y="48.42" width="7.8" height="1.5" fill="#d82a1e"/>
<rect x="125.20" y="47.74" width="7.8" height="1.5" fill="#d82a1e"/>
<rect x="125.20" y="48.88" width="7.8" height="1.5" fill="#d82a1e"/>
<rect x="138.90" y="58.41" width="7.8" height="1.5" fill="#d82a1e"/>
<rect x="138.90" y="59.51" width="7.8" height="1.5" fill="#d82a1e"/>
<rect x="138.90" y="58.58" width="7.8" height="1.5" fill="#d82a1e"/>
<rect x="138.90" y="59.68" width="7.8" height="1.5" fill="#d82a1e"/>
<rect x="152.80" y="70.70" width="7.8" height="1.5" fill="#d82a1e"/>
<rect x="152.80" y="71.80" width="7.8" height="1.5" fill="#d82a1e"/>
<rect x="166.80" y="82.50" width="7.8" height="1.5" fill="#d82a1e"/>
<rect x="166.80" y="83.60" width="7.8" height="1.5" fill="#d82a1e"/>
<rect x="180.10" y="94.10" width="7.8" height="1.5" fill="#d82a1e"/>
<rect x="180.10" y="95.20" width="7.8" height="1.5" fill="#d82a1e"/>
<rect x="193.50" y="106.40" width="7.8" height="1.5" fill="#d82a1e"/>
<rect x="193.50" y="107.50" width="7.8" height="1.5" fill="#d82a1e"/>
<rect x="206.60" y="117.70" width="7.8" height="1.5" fill="#d82a1e"/>
<rect x="206.60" y="118.80" width="7.8" height="1.5" fill="#d82a1e"/>
<rect x="219.30" y="129.20" width="7.8" height="1.5" fill="#d82a1e"/>
<rect x="219.30" y="130.30" width="7.8" height="1.5" fill="#d82a1e"/>
<rect x="25.7" y="4.7" width="213.9" height="241.9" fill="none" stroke="#231f20" stroke-width="1.5"/>
<line x1="32.50" y1="246.6" x2="32.50" y2="242.1" stroke="#231f20" stroke-width="1.3"/>
<line x1="32.50" y1="4.7" x2="32.50" y2="9.5" stroke="#231f20" stroke-width="1.3"/>
<text x="26.74 31.10" y="261.1" style="font-family:'Liberation Serif',serif;font-size:13.6px;" fill="#231f20" stroke="#231f20" stroke-width="0" >-8</text>
<line x1="60.17" y1="246.6" x2="60.17" y2="242.1" stroke="#231f20" stroke-width="1.3"/>
<line x1="60.17" y1="4.7" x2="60.17" y2="9.5" stroke="#231f20" stroke-width="1.3"/>
<text x="54.41 58.77" y="261.1" style="font-family:'Liberation Serif',serif;font-size:13.6px;" fill="#231f20" stroke="#231f20" stroke-width="0" >-7</text>
<line x1="87.84" y1="246.6" x2="87.84" y2="242.1" stroke="#231f20" stroke-width="1.3"/>
<line x1="87.84" y1="4.7" x2="87.84" y2="9.5" stroke="#231f20" stroke-width="1.3"/>
<text x="82.08 86.44" y="261.1" style="font-family:'Liberation Serif',serif;font-size:13.6px;" fill="#231f20" stroke="#231f20" stroke-width="0" >-6</text>
<line x1="115.51" y1="246.6" x2="115.51" y2="242.1" stroke="#231f20" stroke-width="1.3"/>
<line x1="115.51" y1="4.7" x2="115.51" y2="9.5" stroke="#231f20" stroke-width="1.3"/>
<text x="109.75 114.11" y="261.1" style="font-family:'Liberation Serif',serif;font-size:13.6px;" fill="#231f20" stroke="#231f20" stroke-width="0" >-5</text>
<line x1="143.18" y1="246.6" x2="143.18" y2="242.1" stroke="#231f20" stroke-width="1.3"/>
<line x1="143.18" y1="4.7" x2="143.18" y2="9.5" stroke="#231f20" stroke-width="1.3"/>
<text x="137.42 141.78" y="261.1" style="font-family:'Liberation Serif',serif;font-size:13.6px;" fill="#231f20" stroke="#231f20" stroke-width="0" >-4</text>
<line x1="170.85" y1="246.6" x2="170.85" y2="242.1" stroke="#231f20" stroke-width="1.3"/>
<line x1="170.85" y1="4.7" x2="170.85" y2="9.5" stroke="#231f20" stroke-width="1.3"/>
<text x="165.09 169.45" y="261.1" style="font-family:'Liberation Serif',serif;font-size:13.6px;" fill="#231f20" stroke="#231f20" stroke-width="0" >-3</text>
<line x1="198.52" y1="246.6" x2="198.52" y2="242.1" stroke="#231f20" stroke-width="1.3"/>
<line x1="198.52" y1="4.7" x2="198.52" y2="9.5" stroke="#231f20" stroke-width="1.3"/>
<text x="192.76 197.12" y="261.1" style="font-family:'Liberation Serif',serif;font-size:13.6px;" fill="#231f20" stroke="#231f20" stroke-width="0" >-2</text>
<line x1="226.19" y1="246.6" x2="226.19" y2="242.1" stroke="#231f20" stroke-width="1.3"/>
<line x1="226.19" y1="4.7" x2="226.19" y2="9.5" stroke="#231f20" stroke-width="1.3"/>
<text x="220.43 224.79" y="261.1" style="font-family:'Liberation Serif',serif;font-size:13.6px;" fill="#231f20" stroke="#231f20" stroke-width="0" >-1</text>
<line x1="25.7" y1="47" x2="30.5" y2="47" stroke="#231f20" stroke-width="1.3"/>
<line x1="239.6" y1="47" x2="234.8" y2="47" stroke="#231f20" stroke-width="1.3"/>
<line x1="25.7" y1="88.9" x2="30.5" y2="88.9" stroke="#231f20" stroke-width="1.3"/>
<line x1="239.6" y1="88.9" x2="234.8" y2="88.9" stroke="#231f20" stroke-width="1.3"/>
<line x1="25.7" y1="130.8" x2="30.5" y2="130.8" stroke="#231f20" stroke-width="1.3"/>
<line x1="239.6" y1="130.8" x2="234.8" y2="130.8" stroke="#231f20" stroke-width="1.3"/>
<line x1="25.7" y1="172.8" x2="30.5" y2="172.8" stroke="#231f20" stroke-width="1.3"/>
<line x1="239.6" y1="172.8" x2="234.8" y2="172.8" stroke="#231f20" stroke-width="1.3"/>
<line x1="25.7" y1="214.7" x2="30.5" y2="214.7" stroke="#231f20" stroke-width="1.3"/>
<line x1="239.6" y1="214.7" x2="234.8" y2="214.7" stroke="#231f20" stroke-width="1.3"/>
<text x="103.6" y="278.8" textLength="17.8" lengthAdjust="spacingAndGlyphs" style="font-family:'Liberation Serif',serif;font-size:14.5px" fill="#231f20">log</text>
<text x="123.2" y="278.8" style="font-family:'Liberation Serif',serif;font-size:13.5px;font-style:italic" fill="#231f20">a</text>
<text x="130.6" y="280.5" textLength="31" lengthAdjust="spacingAndGlyphs" style="font-family:'Liberation Serif',serif;font-size:11.5px" fill="#231f20">acetate</text>
<g transform="translate(14.0,152.4) rotate(-90)">
<text x="0.41" y="0" style="font-family:'Liberation Serif',serif;font-size:13.2px;" fill="#231f20" stroke="#231f20" stroke-width="0" >&#916;</text>
<text x="9.34" y="0" style="font-family:'Liberation Serif',serif;font-size:13.2px;font-style:italic;" fill="#231f20" stroke="#231f20" stroke-width="0" >E</text>
<text x="32.59 43.33" y="0" style="font-family:'Liberation Serif',serif;font-size:13.2px;" fill="#231f20" stroke="#231f20" stroke-width="0" >mV</text><line x1="21.65" y1="1.60" x2="27.77" y2="-9.50" stroke="#231f20" stroke-width="1.05"/>
</g>
<text x="115.09" y="299.4" style="font-family:'Liberation Serif',serif;font-size:12.6px;" fill="#231f20" stroke="#231f20" stroke-width="0" >(</text>
<text x="119.35" y="299.4" style="font-family:'Liberation Serif',serif;font-size:12.6px;font-weight:bold;" fill="#231f20" stroke="#231f20" stroke-width="0" >b</text>
<text x="126.42" y="299.4" style="font-family:'Liberation Serif',serif;font-size:12.6px;" fill="#231f20" stroke="#231f20" stroke-width="0" >)</text>
<text x="178.80 185.35 191.90 202.01 212.61" y="72.8" style="font-family:'Liberation Serif',serif;font-size:13.9px;" fill="#231f20" stroke="#231f20" stroke-width="0" >100mV</text>
<line x1="233.1" y1="52" x2="233.1" y2="84" stroke="#111" stroke-width="1.8"/>
<polyline points="229.7,57.6 233.1,51.6 236.5,57.6" fill="none" stroke="#111" stroke-width="1.9" stroke-linejoin="miter"/>
<polyline points="229.7,78.3 233.1,84.3 236.5,78.3" fill="none" stroke="#111" stroke-width="1.9" stroke-linejoin="miter"/>
<g transform="translate(43.8,28.8) rotate(45)"><path d="M-1.25,-4.15 H1.25 V-1.25 H4.15 V1.25 H1.25 V4.15 H-1.25 V1.25 H-4.15 V-1.25 H-1.25 Z" fill="none" stroke="#d82a1e" stroke-width="1.35" stroke-linejoin="round"/></g>
<path d="M43.8,43.199999999999996 L49.599999999999994,48.8 L43.8,54.4 L38.0,48.8 Z" fill="none" stroke="#f07424" stroke-width="1.5"/>
<rect x="39.9" y="68.69999999999999" width="7.8" height="7.8" fill="none" stroke="#1fa5e1" stroke-width="1.6"/>
<path d="M43.8,108.0 L47.699999999999996,114.89999999999999 L39.9,114.89999999999999 Z" fill="none" stroke="#1b6cc4" stroke-width="1.6" stroke-linejoin="miter" stroke-miterlimit="3"/>
<circle cx="43.8" cy="126.6" r="3.6" fill="none" stroke="#111111" stroke-width="1.7"/>
<g transform="translate(40.4,151.1) rotate(45)"><path d="M-1.25,-4.15 H1.25 V-1.25 H4.15 V1.25 H1.25 V4.15 H-1.25 V1.25 H-4.15 V-1.25 H-1.25 Z" fill="none" stroke="#d82a1e" stroke-width="1.35" stroke-linejoin="round"/></g>
<text x="56.09 66.36 76.22 86.60 101.31 107.96" y="155.0" style="font-family:'Liberation Serif',serif;font-size:13.8px;" fill="#231f20" stroke="#231f20" stroke-width="0" >ACN250</text><line x1="94.27" y1="156.60" x2="100.39" y2="145.50" stroke="#231f20" stroke-width="1.05"/>
<path d="M40.4,165.55 L46.199999999999996,171.15 L40.4,176.75 L34.6,171.15 Z" fill="none" stroke="#f07424" stroke-width="1.5"/>
<text x="56.04 68.57 77.76 84.41 91.73 102.11 116.82 123.47" y="175.05" style="font-family:'Liberation Serif',serif;font-size:13.8px;" fill="#231f20" stroke="#231f20" stroke-width="0" >MC12N250</text><line x1="109.77" y1="176.65" x2="115.90" y2="165.55" stroke="#231f20" stroke-width="1.05"/>
<rect x="36.5" y="187.29999999999998" width="7.8" height="7.8" fill="none" stroke="#1fa5e1" stroke-width="1.6"/>
<text x="56.04 68.57 77.76 85.08 95.46 110.17 116.82" y="195.1" style="font-family:'Liberation Serif',serif;font-size:13.8px;" fill="#231f20" stroke="#231f20" stroke-width="0" >MC9N250</text><line x1="103.12" y1="196.70" x2="109.25" y2="185.60" stroke="#231f20" stroke-width="1.05"/>
<path d="M40.4,207.95 L44.3,214.85 L36.5,214.85 Z" fill="none" stroke="#1b6cc4" stroke-width="1.6" stroke-linejoin="miter" stroke-miterlimit="3"/>
<text x="56.04 68.57 77.76 85.08 95.46 110.17 116.82" y="215.15" style="font-family:'Liberation Serif',serif;font-size:13.8px;" fill="#231f20" stroke="#231f20" stroke-width="0" >MC5N250</text><line x1="103.12" y1="216.75" x2="109.25" y2="205.65" stroke="#231f20" stroke-width="1.05"/>
<circle cx="40.4" cy="231.3" r="3.6" fill="none" stroke="#111111" stroke-width="1.7"/>
<text x="56.44 66.83 81.54 88.19" y="235.2" style="font-family:'Liberation Serif',serif;font-size:13.8px;" fill="#231f20" stroke="#231f20" stroke-width="0" >N250</text><line x1="74.49" y1="236.80" x2="80.61" y2="225.70" stroke="#231f20" stroke-width="1.05"/>
</g>
</svg></body></html>
